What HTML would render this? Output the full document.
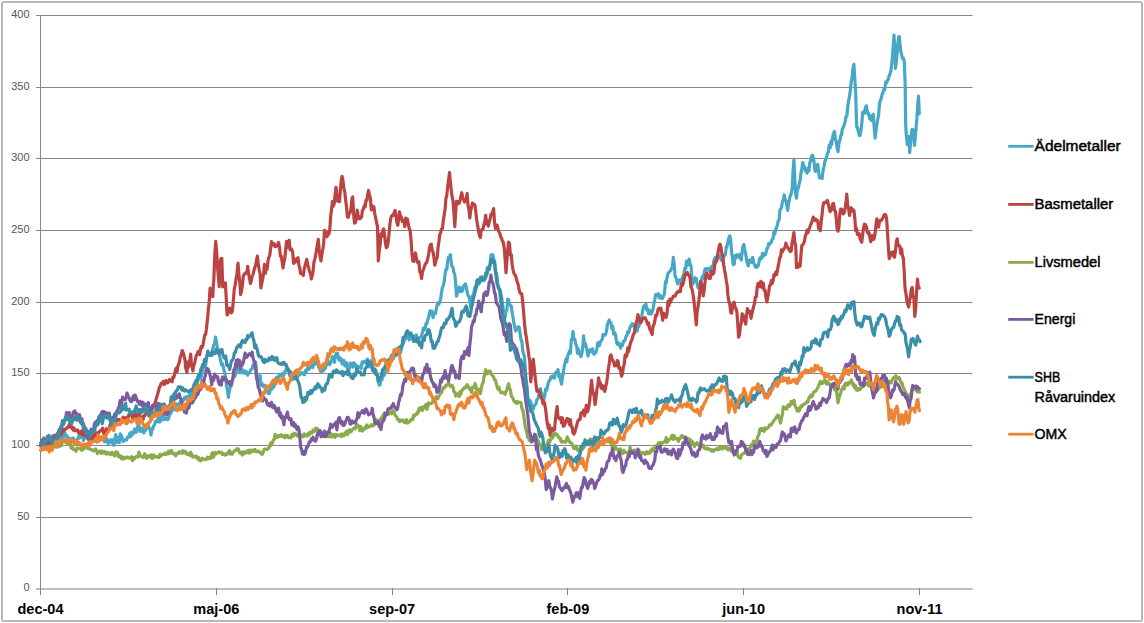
<!DOCTYPE html>
<html><head><meta charset="utf-8"><style>
html,body{margin:0;padding:0;background:#fff;width:1144px;height:623px;overflow:hidden}
svg{display:block}
.yl{font-family:"Liberation Sans",sans-serif;font-size:11px;fill:#555;text-anchor:end}
.xl{font-family:"Liberation Sans",sans-serif;font-size:14.5px;font-weight:bold;fill:#000;text-anchor:middle}
.lg{font-family:"Liberation Sans",sans-serif;font-size:14px;fill:#000;stroke:#000;stroke-width:0.45px}
</style></head><body>
<svg width="1144" height="623" viewBox="0 0 1144 623">
<rect x="2" y="2" width="1140" height="619" rx="1.5" fill="#fff" stroke="#b9b9b9" stroke-width="2"/>
<line x1="36" y1="589" x2="972.5" y2="589" stroke="#bcbcbc" stroke-width="2"/><text x="29.5" y="591.2" class="yl">0</text><line x1="36" y1="517.5" x2="972.5" y2="517.5" stroke="#868686" stroke-width="1"/><text x="29.5" y="520.2" class="yl">50</text><line x1="36" y1="445.5" x2="972.5" y2="445.5" stroke="#868686" stroke-width="1"/><text x="29.5" y="448.2" class="yl">100</text><line x1="36" y1="373.5" x2="972.5" y2="373.5" stroke="#868686" stroke-width="1"/><text x="29.5" y="376.2" class="yl">150</text><line x1="36" y1="302.5" x2="972.5" y2="302.5" stroke="#868686" stroke-width="1"/><text x="29.5" y="305.2" class="yl">200</text><line x1="36" y1="230.5" x2="972.5" y2="230.5" stroke="#868686" stroke-width="1"/><text x="29.5" y="233.2" class="yl">250</text><line x1="36" y1="158.5" x2="972.5" y2="158.5" stroke="#868686" stroke-width="1"/><text x="29.5" y="161.2" class="yl">300</text><line x1="36" y1="87.5" x2="972.5" y2="87.5" stroke="#868686" stroke-width="1"/><text x="29.5" y="90.2" class="yl">350</text><line x1="36" y1="15.5" x2="972.5" y2="15.5" stroke="#868686" stroke-width="1"/><text x="29.5" y="18.2" class="yl">400</text>
<line x1="40.5" y1="15" x2="40.5" y2="589" stroke="#868686" stroke-width="1"/>
<line x1="40.5" y1="588" x2="40.5" y2="595" stroke="#868686" stroke-width="1"/><text x="40.5" y="614" class="xl">dec-04</text><line x1="216.5" y1="588" x2="216.5" y2="595" stroke="#868686" stroke-width="1"/><text x="216.3" y="614" class="xl">maj-06</text><line x1="392.5" y1="588" x2="392.5" y2="595" stroke="#868686" stroke-width="1"/><text x="392.1" y="614" class="xl">sep-07</text><line x1="567.5" y1="588" x2="567.5" y2="595" stroke="#868686" stroke-width="1"/><text x="567.9" y="614" class="xl">feb-09</text><line x1="743.5" y1="588" x2="743.5" y2="595" stroke="#868686" stroke-width="1"/><text x="743.7" y="614" class="xl">jun-10</text><line x1="919.5" y1="588" x2="919.5" y2="595" stroke="#868686" stroke-width="1"/><text x="919.5" y="614" class="xl">nov-11</text>
<path d="M40.8 445.5 L41.7 445.5 L42.7 442.6 L43.6 441.6 L44.6 440.9 L45.5 441.7 L46.4 444.8 L47.4 443.2 L48.3 440.7 L49.2 439.8 L50.2 442.1 L51.1 445.5 L52.0 443.9 L53.0 442.3 L53.9 439.4 L54.9 443.3 L55.8 441.9 L56.7 439.1 L57.7 443.3 L58.6 441.5 L59.5 438.7 L60.5 436.7 L61.4 438.0 L62.3 433.9 L63.2 439.9 L64.1 434.7 L65.0 433.4 L65.9 435.9 L66.8 435.6 L67.7 439.0 L68.6 438.0 L69.5 438.3 L70.4 442.3 L71.3 438.5 L72.2 438.8 L73.1 438.0 L74.0 441.0 L74.9 440.4 L75.9 441.0 L76.8 439.4 L77.8 438.9 L78.8 436.2 L79.7 438.0 L80.7 433.1 L81.6 435.7 L82.6 436.1 L83.5 440.6 L84.4 437.7 L85.4 437.0 L86.3 435.4 L87.3 438.6 L88.2 439.3 L89.1 438.8 L90.1 441.5 L91.0 442.2 L91.9 439.8 L92.8 439.6 L93.7 435.5 L94.6 434.0 L95.5 439.3 L96.4 441.4 L97.3 441.0 L98.2 438.2 L99.1 438.6 L100.0 438.8 L100.9 438.8 L101.8 439.5 L102.7 437.5 L103.6 438.3 L104.5 441.9 L105.4 437.5 L106.3 441.5 L107.2 439.2 L108.1 443.6 L109.0 442.9 L109.9 441.2 L110.9 439.6 L111.8 442.9 L112.8 440.0 L113.8 445.3 L114.7 440.0 L115.7 434.6 L116.7 442.3 L117.6 437.3 L118.4 439.0 L119.3 442.7 L120.2 433.8 L121.1 434.9 L122.0 437.7 L122.9 441.4 L123.8 441.1 L124.7 440.1 L125.6 439.4 L126.5 440.1 L127.4 437.3 L128.3 437.7 L129.2 435.2 L130.1 432.9 L131.0 436.4 L131.9 432.0 L132.8 434.2 L133.7 433.5 L134.6 429.0 L135.5 430.9 L136.3 432.1 L137.2 427.2 L138.0 427.4 L139.0 424.8 L140.0 431.5 L141.0 431.2 L141.9 428.5 L142.9 431.0 L143.9 432.9 L144.8 427.5 L145.7 430.3 L146.6 425.9 L147.4 426.9 L148.3 425.0 L149.2 429.0 L150.1 429.1 L151.0 435.1 L151.9 428.5 L152.7 429.2 L153.6 426.0 L154.5 424.9 L155.4 421.5 L156.3 421.0 L157.2 421.8 L158.0 418.2 L158.9 418.4 L159.8 422.1 L160.7 419.9 L161.6 414.7 L162.4 415.8 L163.3 419.9 L164.2 417.0 L165.1 418.4 L166.0 419.2 L166.9 418.0 L167.7 419.5 L168.6 418.7 L169.5 414.4 L170.4 413.8 L171.3 412.3 L172.2 409.2 L173.0 407.2 L173.9 407.2 L174.8 409.9 L175.7 403.6 L176.6 404.6 L177.5 405.4 L178.3 405.8 L179.2 403.9 L180.1 401.9 L181.0 400.8 L181.9 402.3 L182.7 399.3 L183.6 400.1 L184.5 397.6 L185.4 398.7 L186.3 396.8 L187.2 399.2 L188.0 396.8 L188.9 395.8 L189.8 396.7 L190.7 394.1 L191.6 393.3 L192.5 395.3 L193.3 392.3 L194.2 389.5 L195.0 386.6 L196.0 385.3 L196.9 384.2 L197.9 378.4 L198.9 374.5 L199.8 379.1 L200.8 378.5 L201.7 374.1 L202.7 368.6 L203.6 367.9 L204.4 365.2 L205.3 366.4 L206.1 362.3 L207.0 356.0 L207.8 354.7 L208.8 354.7 L209.8 355.4 L210.7 354.8 L211.7 352.3 L212.7 349.3 L213.6 345.0 L214.6 343.6 L215.5 337.0 L216.5 342.2 L217.5 348.2 L218.3 350.8 L219.1 354.0 L219.9 357.4 L220.7 360.8 L221.6 364.9 L222.6 363.9 L223.6 368.9 L224.5 371.9 L225.5 377.6 L226.5 385.6 L227.4 389.8 L228.4 397.3 L229.3 390.6 L230.3 386.9 L231.3 385.9 L232.2 381.1 L233.2 377.5 L234.2 376.7 L235.1 375.8 L236.1 372.3 L237.0 369.8 L238.0 369.4 L239.0 369.9 L239.9 372.8 L240.9 372.0 L241.9 371.2 L242.8 370.0 L243.8 373.2 L244.7 371.0 L245.7 373.3 L246.7 371.8 L247.6 375.1 L248.6 373.3 L249.5 373.0 L250.4 370.4 L251.2 369.2 L252.1 369.0 L253.0 365.0 L253.9 366.1 L254.8 366.9 L255.7 362.0 L256.5 372.0 L257.4 380.6 L258.3 377.7 L259.2 381.6 L260.1 375.5 L260.9 385.3 L261.8 382.9 L262.7 385.7 L263.5 386.6 L264.3 386.5 L265.2 385.3 L266.0 390.2 L266.9 390.6 L267.7 392.0 L268.6 393.7 L269.5 393.4 L270.0 390.0 L271.0 388.5 L271.9 389.3 L272.9 384.9 L273.9 387.1 L274.8 379.4 L275.8 379.0 L276.7 377.2 L277.6 378.3 L278.5 377.2 L279.4 375.1 L280.3 376.1 L281.2 375.8 L282.2 373.6 L283.1 374.2 L284.0 374.7 L285.0 371.1 L285.9 370.4 L286.9 366.9 L287.8 370.7 L288.7 370.0 L289.7 375.7 L290.6 375.9 L291.5 379.6 L292.5 377.0 L293.4 379.1 L294.3 378.9 L295.2 374.3 L296.1 373.2 L297.0 373.3 L297.9 376.9 L298.8 374.8 L299.8 374.7 L300.7 373.5 L301.6 372.4 L302.6 373.2 L303.5 374.4 L304.5 374.7 L305.4 370.6 L306.3 371.9 L307.3 368.5 L308.2 367.5 L309.1 369.2 L310.0 366.0 L310.9 366.7 L311.8 363.0 L312.7 367.7 L313.6 364.3 L314.5 362.6 L315.4 364.0 L316.3 363.5 L317.2 361.5 L318.0 363.5 L318.9 367.7 L319.7 368.2 L320.6 371.4 L321.5 372.1 L322.4 370.5 L323.3 370.9 L324.2 365.9 L325.1 368.7 L326.0 365.9 L326.9 364.5 L327.9 360.1 L328.8 363.5 L329.7 364.7 L330.7 362.4 L331.6 361.1 L332.6 356.7 L333.6 358.9 L334.5 362.3 L335.5 355.3 L336.5 353.1 L337.4 353.2 L338.4 358.0 L339.3 360.3 L340.2 357.9 L341.2 359.2 L342.1 364.0 L343.0 363.1 L344.0 360.5 L344.9 365.9 L345.8 363.9 L346.8 362.8 L347.7 370.7 L348.7 366.1 L349.6 368.5 L350.4 363.1 L351.3 366.2 L352.2 363.4 L353.1 367.0 L354.0 362.7 L354.9 365.1 L355.8 364.9 L356.7 368.5 L357.6 369.3 L358.5 366.4 L359.4 366.7 L360.3 366.4 L361.2 368.3 L362.1 362.3 L363.0 361.7 L363.9 362.6 L364.8 361.3 L365.7 362.5 L366.6 360.7 L367.5 359.2 L368.4 367.0 L369.3 362.5 L370.2 361.8 L371.1 360.5 L372.0 361.3 L372.9 369.3 L373.8 369.2 L374.7 372.2 L375.6 370.0 L376.5 372.9 L377.4 375.3 L378.3 379.5 L379.2 385.2 L380.1 384.7 L381.0 376.9 L381.9 379.9 L382.7 374.9 L383.6 375.8 L384.5 374.7 L385.4 370.1 L386.3 369.5 L387.2 367.8 L388.0 363.2 L388.9 361.1 L389.8 358.9 L390.7 357.8 L391.6 355.2 L392.5 358.9 L393.3 358.7 L394.2 351.1 L395.1 354.6 L396.0 354.4 L396.9 348.6 L397.8 351.8 L398.6 350.8 L399.5 348.8 L400.4 353.0 L401.3 349.4 L402.2 345.8 L403.0 344.0 L403.9 341.9 L404.8 338.7 L405.7 338.8 L406.6 335.9 L407.5 334.9 L408.3 335.4 L409.2 340.0 L410.1 337.8 L411.0 338.6 L411.9 337.5 L412.8 339.0 L413.6 338.4 L414.5 335.8 L415.4 336.7 L416.3 334.9 L417.2 338.9 L418.1 341.7 L418.9 338.1 L419.8 337.4 L420.7 336.7 L421.6 336.0 L422.5 332.1 L423.3 328.1 L424.2 330.0 L425.1 329.8 L426.0 323.4 L426.9 323.7 L427.8 319.3 L428.6 317.9 L429.5 312.6 L430.4 310.7 L431.3 314.1 L432.2 311.3 L433.1 317.7 L433.9 313.0 L434.8 313.3 L435.6 313.4 L436.4 308.2 L437.2 304.9 L438.0 302.9 L438.9 304.2 L439.8 302.1 L440.6 299.1 L441.5 292.7 L442.4 287.2 L443.3 285.7 L444.2 281.6 L445.1 274.2 L445.9 269.2 L446.8 269.6 L447.7 261.5 L448.6 256.8 L449.5 256.7 L450.4 254.7 L451.2 262.4 L452.1 266.7 L453.0 267.4 L453.9 272.8 L454.8 274.4 L455.7 283.6 L456.5 296.1 L457.4 293.2 L458.3 290.9 L459.2 287.1 L460.1 287.4 L460.9 291.6 L461.8 291.4 L462.7 290.6 L463.6 286.0 L464.5 285.1 L465.4 283.9 L466.2 286.3 L467.1 291.9 L468.0 295.3 L468.9 296.7 L469.8 300.3 L470.7 307.2 L471.5 302.1 L472.4 295.8 L473.3 297.0 L474.2 290.5 L475.1 286.5 L476.0 286.5 L476.8 286.2 L477.7 284.6 L478.6 284.0 L479.5 282.8 L480.4 278.6 L481.2 277.6 L482.1 276.7 L483.0 280.7 L483.9 280.6 L484.8 279.5 L485.7 277.3 L486.5 275.3 L487.4 273.3 L488.3 267.2 L489.2 269.4 L490.1 263.9 L491.0 255.2 L491.8 257.7 L492.7 254.6 L493.6 258.9 L494.5 261.1 L495.4 269.9 L496.3 273.1 L497.1 277.1 L498.0 287.2 L498.9 288.0 L499.8 292.4 L500.7 302.1 L501.5 296.5 L502.4 303.6 L503.3 309.5 L504.2 312.6 L505.1 317.2 L506.0 311.8 L506.8 310.3 L507.7 299.1 L508.6 299.5 L509.5 304.4 L510.4 305.5 L511.3 306.0 L512.1 312.5 L513.0 317.1 L513.9 323.2 L514.8 327.5 L515.7 330.9 L516.6 329.3 L517.4 328.5 L518.3 326.6 L519.2 327.4 L520.1 333.7 L521.0 339.6 L521.8 341.0 L522.7 350.3 L523.6 353.9 L524.5 356.9 L525.4 371.4 L526.3 381.8 L527.1 386.8 L528.0 401.1 L528.9 400.4 L529.8 400.4 L530.7 402.0 L531.6 405.6 L532.4 406.8 L533.3 409.2 L534.2 405.6 L535.1 404.9 L536.0 403.7 L536.9 399.7 L537.7 399.3 L538.6 396.5 L539.5 390.4 L540.4 388.6 L541.3 392.8 L542.1 395.1 L543.0 395.1 L543.9 399.2 L544.8 394.9 L545.7 389.0 L546.6 390.5 L547.4 386.9 L548.3 382.9 L549.2 380.7 L550.1 380.0 L551.0 376.8 L551.9 376.3 L552.7 377.5 L553.6 375.9 L554.5 378.1 L555.4 373.2 L556.3 372.1 L557.2 371.3 L558.0 369.7 L558.9 376.9 L559.8 375.5 L560.7 380.7 L561.6 384.0 L562.4 377.7 L563.3 373.1 L564.2 366.4 L565.1 362.8 L566.0 359.0 L566.9 361.8 L567.7 355.9 L568.6 353.5 L569.5 351.0 L570.4 353.1 L571.3 339.9 L572.2 338.2 L573.0 331.7 L573.9 339.5 L574.8 339.4 L575.7 344.1 L576.6 345.5 L577.5 353.3 L578.3 348.9 L579.2 352.9 L580.1 354.8 L581.0 356.6 L581.9 353.2 L582.7 348.0 L583.6 335.8 L584.5 345.9 L585.4 343.7 L586.3 347.1 L587.2 351.2 L588.0 356.2 L588.9 352.1 L589.8 349.9 L590.7 349.8 L591.6 351.9 L592.5 348.9 L593.3 353.2 L594.2 354.2 L595.1 352.2 L596.0 352.5 L596.9 348.5 L597.8 343.1 L598.6 342.4 L599.5 345.5 L600.4 341.6 L601.3 340.7 L602.2 339.3 L603.0 334.6 L603.9 335.5 L604.8 335.5 L605.7 334.1 L606.6 330.6 L607.5 323.6 L608.3 322.4 L609.2 320.0 L610.1 322.5 L611.0 322.7 L611.9 328.8 L612.8 326.5 L613.6 334.0 L614.5 332.5 L615.4 334.1 L616.3 340.3 L617.2 344.1 L618.1 342.5 L618.9 345.0 L619.8 344.1 L620.7 348.1 L621.6 344.7 L622.5 345.2 L623.3 341.4 L624.2 341.4 L625.1 339.7 L626.0 336.7 L626.9 335.3 L627.8 331.7 L628.6 332.7 L629.5 329.7 L630.4 326.2 L631.3 326.3 L632.2 323.6 L633.1 325.1 L633.9 325.3 L634.8 326.9 L635.6 330.7 L636.4 329.5 L637.2 331.0 L638.0 324.9 L638.9 326.6 L639.8 319.8 L640.6 321.6 L641.5 317.7 L642.4 312.5 L643.3 307.4 L644.2 305.6 L645.1 305.3 L645.9 304.1 L646.8 310.1 L647.7 308.9 L648.6 314.0 L649.5 311.4 L650.4 310.7 L651.2 314.0 L652.1 312.1 L653.0 309.4 L653.9 303.7 L654.8 299.6 L655.7 294.6 L656.5 295.6 L657.4 294.3 L658.3 293.7 L659.2 297.8 L660.1 295.5 L660.9 298.3 L661.8 296.4 L662.7 298.3 L663.6 295.6 L664.5 293.6 L665.4 281.5 L666.2 283.0 L667.1 277.3 L668.0 273.2 L668.9 272.5 L669.8 271.5 L670.7 270.4 L671.5 268.6 L672.4 266.9 L673.3 257.4 L674.2 264.2 L675.1 276.1 L676.0 277.7 L676.8 280.8 L677.7 283.8 L678.6 281.5 L679.5 279.9 L680.4 280.8 L681.2 281.8 L682.1 278.6 L683.0 275.9 L683.9 273.9 L684.8 268.7 L685.7 268.9 L686.5 261.1 L687.4 265.1 L688.3 264.7 L689.2 259.0 L690.1 264.0 L691.0 265.9 L691.8 276.5 L692.7 284.2 L693.6 281.8 L694.5 281.2 L695.4 277.7 L696.3 278.4 L697.1 283.9 L698.0 287.6 L698.9 285.8 L699.8 289.5 L700.7 281.7 L701.5 279.6 L702.4 276.5 L703.3 278.1 L704.2 272.9 L705.1 268.9 L706.0 269.8 L706.8 269.4 L707.7 268.3 L708.6 268.5 L709.5 271.0 L710.4 272.1 L711.3 266.8 L712.1 266.4 L713.0 266.6 L713.9 260.8 L714.8 257.8 L715.7 258.0 L716.6 256.7 L717.4 257.0 L718.3 257.4 L719.2 257.4 L720.1 255.7 L721.0 259.9 L721.8 260.5 L722.7 261.0 L723.6 257.2 L724.5 255.5 L725.4 254.6 L726.3 246.5 L727.1 246.5 L728.0 241.5 L728.9 237.6 L729.8 235.8 L730.7 240.1 L731.6 252.5 L732.4 257.8 L733.3 264.7 L734.2 264.1 L735.1 255.7 L736.0 257.9 L736.9 254.9 L737.7 257.1 L738.6 255.0 L739.5 254.5 L740.4 258.4 L741.3 259.9 L742.1 252.1 L743.0 246.3 L743.9 244.4 L744.8 250.5 L745.7 253.5 L746.6 260.6 L747.4 263.2 L748.3 265.9 L749.2 260.2 L750.1 262.2 L751.0 259.9 L751.9 262.2 L752.7 257.3 L753.6 263.1 L754.5 264.5 L755.4 267.1 L756.3 267.3 L757.2 265.3 L758.0 266.1 L758.9 262.9 L759.8 258.4 L760.7 257.4 L761.6 258.5 L762.4 253.4 L763.3 256.2 L764.2 254.0 L765.1 254.8 L766.0 252.9 L766.9 248.6 L767.7 247.8 L768.6 243.6 L769.5 244.5 L770.4 243.1 L771.3 242.1 L772.2 239.2 L773.0 238.5 L773.9 232.0 L774.8 234.0 L775.7 229.7 L776.6 227.2 L777.5 224.5 L778.3 220.6 L779.2 219.8 L779.8 210.7 L780.6 209.0 L781.5 207.5 L782.4 202.1 L783.3 199.8 L784.2 194.9 L785.1 199.7 L785.9 200.5 L786.8 205.4 L787.7 210.5 L788.6 203.7 L789.5 199.0 L790.4 195.3 L791.2 193.8 L792.1 189.1 L793.0 172.1 L793.9 159.9 L794.8 178.8 L795.7 194.1 L796.5 198.1 L797.4 188.9 L798.3 188.3 L799.2 183.8 L800.1 180.6 L800.9 173.7 L801.8 169.4 L802.7 162.5 L803.6 165.2 L804.5 167.1 L805.4 170.9 L806.2 169.3 L807.1 173.2 L808.0 168.2 L808.9 171.0 L809.8 162.6 L810.7 160.5 L811.5 156.4 L812.4 155.1 L813.3 157.2 L814.2 163.3 L815.1 171.3 L816.0 169.4 L816.8 170.7 L817.7 164.3 L818.6 172.1 L819.5 177.9 L820.4 177.8 L821.2 177.8 L822.1 178.5 L823.0 171.0 L823.9 167.0 L824.8 161.9 L825.7 159.4 L826.5 157.3 L827.4 153.8 L828.3 152.1 L829.2 145.2 L830.1 148.0 L831.0 141.2 L831.8 144.4 L832.7 136.9 L833.6 133.4 L834.5 131.4 L835.4 139.4 L836.3 141.3 L837.1 147.7 L838.0 151.6 L838.9 143.3 L839.8 141.0 L840.7 135.9 L841.5 134.8 L842.4 128.4 L843.3 127.7 L844.2 124.6 L845.1 121.9 L846.0 116.5 L846.8 116.2 L847.7 107.1 L848.6 100.9 L849.5 96.5 L850.4 90.1 L851.3 81.0 L852.1 78.0 L853.0 68.7 L853.9 64.4 L854.8 78.5 L855.7 92.7 L856.6 126.5 L857.4 127.5 L858.3 131.0 L859.2 135.5 L860.1 135.5 L861.0 130.7 L861.8 122.8 L862.7 112.3 L863.6 111.9 L864.5 113.2 L865.4 107.6 L866.3 105.8 L867.1 110.7 L868.0 114.2 L868.9 113.7 L869.8 118.9 L870.7 117.0 L871.6 120.5 L872.4 115.5 L873.3 114.3 L874.2 127.7 L875.1 138.1 L876.0 130.7 L876.9 124.4 L877.7 119.8 L878.6 115.0 L879.5 103.7 L880.4 100.3 L881.3 98.1 L882.1 94.3 L883.0 92.4 L883.9 89.2 L884.8 89.6 L885.7 82.2 L886.6 83.0 L887.4 80.4 L888.3 79.4 L889.2 75.9 L890.1 73.6 L891.0 70.5 L891.9 62.1 L892.7 53.3 L893.4 43.3 L894.0 35.1 L894.7 47.7 L895.4 68.3 L896.2 63.2 L897.0 55.5 L897.8 44.3 L898.6 36.8 L899.3 36.6 L900.1 45.2 L900.8 51.8 L901.6 54.5 L902.4 58.4 L903.3 58.2 L904.2 60.5 L905.1 81.7 L905.7 126.4 L906.5 136.5 L907.3 144.6 L908.1 139.8 L908.9 136.6 L909.7 152.7 L910.5 143.5 L911.3 134.6 L912.1 129.3 L912.9 129.9 L913.7 132.9 L914.5 145.4 L915.3 136.5 L916.1 127.8 L916.9 118.4 L917.7 105.1 L918.5 96.1 L919.3 113.8" fill="none" stroke="#46a8c6" stroke-width="3.2" stroke-linejoin="round" stroke-linecap="round"/><path d="M40.8 446.3 L41.7 440.2 L42.7 446.8 L43.6 445.5 L44.6 441.7 L45.5 447.2 L46.4 443.7 L47.4 445.2 L48.3 446.9 L49.2 441.6 L50.2 439.9 L51.1 439.9 L52.0 441.0 L53.0 442.7 L53.9 441.7 L54.9 435.2 L55.8 439.2 L56.7 438.8 L57.7 436.3 L58.6 432.3 L59.5 434.9 L60.5 435.0 L61.2 430.9 L62.0 433.3 L62.7 428.9 L63.6 431.1 L64.5 430.4 L65.4 429.0 L66.3 428.5 L67.2 427.4 L68.2 427.5 L69.1 424.6 L70.1 424.7 L71.1 427.6 L72.0 426.8 L73.0 430.0 L74.0 428.0 L74.9 430.7 L75.8 430.3 L76.8 430.7 L77.7 430.0 L78.6 433.0 L79.6 432.2 L80.5 434.2 L81.4 431.3 L82.4 430.5 L83.3 435.3 L84.3 432.7 L85.2 434.6 L86.1 436.0 L87.0 436.7 L87.9 437.3 L88.8 436.3 L89.7 438.1 L90.5 438.1 L91.4 440.8 L92.2 438.3 L93.1 435.1 L93.9 434.5 L94.7 436.2 L95.6 433.8 L96.4 432.8 L97.3 435.4 L98.2 433.3 L99.1 432.0 L100.0 431.3 L100.9 430.1 L101.8 430.2 L102.7 428.1 L103.6 432.7 L104.5 435.4 L105.4 437.8 L106.4 428.8 L107.3 429.2 L108.2 431.4 L109.2 428.6 L110.1 424.9 L111.0 423.3 L112.0 426.5 L112.9 424.2 L113.8 423.7 L114.8 420.0 L115.7 422.9 L116.7 419.8 L117.6 419.6 L118.5 420.2 L119.5 419.4 L120.4 420.2 L121.3 422.9 L122.3 418.9 L123.2 417.1 L124.1 420.1 L125.1 420.6 L126.0 417.7 L127.0 423.3 L127.9 418.6 L128.8 414.7 L129.8 415.0 L130.7 412.9 L131.6 412.5 L132.6 418.4 L133.5 416.1 L134.4 411.2 L135.3 417.8 L136.2 417.6 L137.1 414.4 L138.0 417.9 L138.8 417.3 L139.6 413.1 L140.4 421.9 L141.3 417.7 L142.1 417.2 L143.0 419.5 L143.9 415.6 L144.8 415.9 L145.7 413.6 L146.6 412.4 L147.4 411.3 L148.3 412.9 L149.2 409.8 L150.1 410.8 L151.0 408.3 L151.9 410.8 L152.7 405.8 L153.6 405.0 L154.5 404.0 L155.2 402.6 L155.8 400.3 L156.7 397.2 L157.5 394.8 L158.4 391.5 L159.2 388.1 L160.0 386.6 L160.7 384.3 L161.5 383.1 L162.4 383.6 L163.3 381.5 L164.2 384.5 L165.1 383.2 L166.0 380.6 L166.9 383.0 L167.8 382.8 L168.7 381.5 L169.6 379.4 L170.4 380.9 L171.3 380.4 L172.1 381.8 L173.0 376.8 L173.8 377.3 L174.7 374.2 L175.5 369.5 L176.3 368.1 L177.2 371.6 L177.9 366.3 L178.7 363.7 L179.4 362.3 L180.4 356.7 L181.3 354.8 L182.2 350.6 L183.2 352.9 L184.1 356.4 L185.1 360.4 L185.6 367.5 L186.2 369.7 L186.9 372.3 L187.7 362.2 L188.4 367.2 L189.2 361.6 L189.9 360.5 L190.7 354.2 L191.4 365.7 L192.2 366.8 L192.9 370.9 L193.8 365.0 L194.6 363.5 L195.4 359.1 L196.3 355.5 L197.1 354.5 L198.0 351.6 L198.8 352.2 L199.7 354.5 L200.5 348.9 L201.3 346.4 L202.2 347.6 L203.0 344.6 L203.9 339.8 L204.7 335.1 L205.6 334.5 L206.4 329.2 L206.9 323.8 L207.5 319.8 L208.3 309.3 L209.2 302.4 L210.1 288.1 L211.0 291.1 L211.9 292.4 L212.8 296.7 L213.3 285.9 L213.9 278.3 L214.8 254.9 L215.7 241.4 L216.6 250.8 L217.4 265.1 L218.3 276.2 L219.2 286.7 L220.1 262.3 L221.0 258.6 L221.8 258.3 L222.7 286.9 L223.6 283.2 L224.5 283.0 L225.4 282.8 L226.3 299.6 L227.1 315.0 L228.0 313.7 L228.9 309.1 L229.8 308.2 L230.7 311.9 L231.6 312.7 L232.4 310.6 L233.3 301.5 L234.2 289.5 L235.1 285.3 L236.0 279.4 L236.9 274.2 L237.7 265.9 L238.0 263.1 L238.9 274.4 L239.8 282.6 L240.6 294.6 L241.5 291.0 L242.4 285.2 L243.3 276.1 L244.2 274.1 L245.1 273.9 L245.9 272.6 L246.8 272.9 L247.7 266.4 L248.6 274.1 L249.5 278.3 L250.4 283.6 L251.2 281.2 L252.1 276.2 L253.0 274.7 L253.9 270.7 L254.8 267.5 L255.7 265.2 L256.5 260.2 L257.4 256.1 L258.3 263.9 L259.2 270.0 L260.1 273.9 L260.9 288.0 L261.8 283.1 L262.7 278.8 L263.6 273.4 L264.5 264.4 L265.4 273.2 L266.2 266.8 L267.1 269.6 L268.0 261.0 L268.9 257.1 L269.8 255.3 L270.7 248.0 L271.5 241.7 L272.4 244.4 L273.3 244.9 L274.2 243.6 L275.1 246.7 L276.0 246.6 L276.8 245.7 L277.7 244.4 L278.6 242.4 L279.5 247.2 L280.4 256.1 L281.2 256.0 L282.1 261.4 L283.0 268.0 L283.9 262.4 L284.8 258.4 L285.7 249.6 L286.5 241.7 L287.4 247.3 L288.3 241.4 L289.2 240.3 L290.1 249.8 L291.0 248.7 L291.8 249.4 L292.7 252.4 L293.6 263.4 L294.5 259.1 L295.4 262.1 L296.3 260.1 L297.1 258.4 L298.0 257.6 L298.9 265.2 L299.8 268.3 L300.7 273.7 L301.5 273.2 L302.4 273.1 L303.3 275.5 L304.2 269.0 L305.1 265.5 L306.0 262.3 L306.8 259.4 L307.7 265.0 L308.6 267.3 L309.5 271.7 L310.4 272.7 L311.3 279.0 L312.1 276.1 L313.0 271.9 L313.9 262.4 L314.8 259.1 L315.7 254.8 L316.6 249.3 L317.4 244.4 L318.3 239.3 L319.2 249.9 L320.1 256.7 L321.0 260.9 L321.8 255.1 L322.7 249.9 L323.6 244.3 L324.5 230.3 L325.4 233.5 L326.3 234.1 L327.1 236.7 L328.0 232.2 L328.9 234.0 L329.8 229.3 L330.7 215.9 L331.6 209.0 L332.4 201.6 L333.3 206.2 L334.2 203.7 L335.1 194.4 L336.0 187.3 L336.9 195.0 L337.7 201.3 L338.6 201.1 L339.5 201.6 L340.4 189.8 L341.3 180.0 L342.1 176.3 L343.0 181.3 L343.9 188.6 L344.8 192.1 L345.7 200.8 L346.6 207.5 L347.4 216.9 L348.3 217.3 L349.2 212.8 L350.1 213.0 L351.0 208.8 L351.9 198.8 L352.7 197.0 L353.6 213.7 L354.5 223.1 L355.4 222.5 L356.3 219.3 L357.2 210.2 L358.0 214.6 L358.9 218.3 L359.8 218.8 L360.7 217.9 L361.6 217.1 L362.4 210.5 L363.3 209.3 L364.2 205.8 L365.1 207.0 L366.0 200.2 L366.9 200.3 L367.7 194.2 L368.6 190.5 L369.5 195.0 L370.4 198.1 L371.3 209.9 L372.2 205.9 L373.0 207.4 L373.9 206.7 L374.8 214.0 L375.7 218.1 L376.6 222.7 L377.5 226.4 L378.3 260.9 L379.2 251.3 L380.1 245.1 L381.0 233.9 L381.9 236.2 L382.7 231.2 L383.6 228.8 L384.5 234.4 L385.4 242.9 L386.3 247.8 L387.2 246.8 L388.0 243.2 L388.9 235.2 L389.8 225.1 L390.7 218.6 L391.6 216.0 L392.5 215.1 L393.3 215.3 L394.2 212.6 L395.1 210.4 L396.0 216.6 L396.9 222.3 L397.8 225.3 L398.6 219.0 L399.5 211.8 L400.4 215.7 L401.3 217.1 L402.2 221.4 L403.0 220.2 L403.9 220.8 L404.8 226.7 L405.7 218.0 L406.6 222.1 L407.5 219.1 L408.3 224.4 L409.2 228.5 L410.1 230.5 L411.0 239.2 L411.9 252.4 L412.8 260.9 L413.6 261.4 L414.5 254.8 L415.4 253.0 L416.3 257.6 L417.2 261.9 L418.1 262.9 L418.9 261.7 L419.8 272.2 L420.7 272.9 L421.6 278.5 L422.5 271.6 L423.3 269.8 L424.2 267.4 L425.1 264.4 L426.0 263.0 L426.9 262.1 L427.8 258.1 L428.6 254.9 L429.5 247.9 L430.4 244.7 L431.3 244.2 L432.2 250.7 L433.1 252.0 L433.9 257.2 L434.8 265.2 L435.6 262.5 L436.4 258.7 L437.2 257.7 L438.0 248.1 L438.9 241.8 L439.8 234.4 L440.6 233.1 L441.5 228.9 L442.4 228.6 L443.3 220.8 L444.2 214.8 L445.1 209.3 L445.9 198.5 L446.8 195.4 L447.7 186.3 L448.6 180.1 L449.5 172.7 L450.4 182.5 L451.2 189.6 L452.1 196.9 L453.0 200.7 L453.9 213.0 L454.8 226.6 L455.7 211.7 L456.5 201.3 L457.4 201.6 L458.3 203.4 L459.2 203.3 L460.1 200.2 L460.9 196.5 L461.8 192.7 L462.7 197.6 L463.6 199.5 L464.5 202.1 L465.4 199.6 L466.2 199.0 L467.1 193.4 L468.0 205.3 L468.9 209.1 L469.8 218.0 L470.7 210.5 L471.5 207.3 L472.4 203.1 L473.3 203.7 L474.2 204.4 L475.1 205.7 L476.0 213.6 L476.8 220.5 L477.7 225.6 L478.6 231.4 L479.5 235.3 L480.4 237.6 L481.2 230.8 L482.1 229.3 L483.0 229.2 L483.9 224.5 L484.8 221.8 L485.7 215.3 L486.5 224.0 L487.4 220.8 L488.3 226.1 L489.2 221.6 L490.1 219.3 L491.0 214.3 L491.8 214.1 L492.7 211.7 L493.6 208.6 L494.5 221.8 L495.4 228.3 L496.3 225.1 L497.1 225.2 L498.0 229.4 L498.9 231.9 L499.8 233.1 L500.7 236.8 L501.5 238.0 L502.4 241.2 L503.3 242.1 L504.2 248.1 L505.1 258.5 L506.0 272.7 L506.8 261.8 L507.7 250.2 L508.6 242.0 L509.5 243.7 L510.4 255.4 L511.3 254.6 L512.1 264.2 L513.0 269.6 L513.9 273.3 L514.8 274.6 L515.7 276.1 L516.6 280.0 L517.4 282.2 L518.3 285.3 L519.2 289.9 L520.1 293.1 L521.0 293.4 L521.8 294.0 L522.7 302.1 L523.6 311.9 L524.5 323.4 L525.4 331.8 L526.3 337.3 L527.1 343.3 L528.0 349.1 L528.9 356.2 L529.8 360.8 L530.7 381.8 L531.6 375.3 L532.4 368.2 L533.3 359.4 L534.2 368.1 L535.1 376.4 L536.0 384.1 L536.9 391.3 L537.7 389.9 L538.6 391.2 L539.5 391.6 L540.4 396.7 L541.3 396.8 L542.1 399.4 L543.0 403.8 L543.9 401.4 L544.8 404.5 L545.7 410.0 L546.6 418.2 L547.4 424.1 L548.3 428.4 L549.2 425.0 L550.1 435.4 L551.0 431.0 L551.9 428.5 L552.7 431.6 L553.6 428.7 L554.5 429.7 L555.4 419.7 L556.3 412.3 L557.2 406.5 L558.0 417.5 L558.9 418.3 L559.8 419.0 L560.7 417.6 L561.6 423.0 L562.4 417.8 L563.3 426.4 L564.2 425.5 L565.1 423.8 L566.0 421.1 L566.9 418.7 L567.7 418.6 L568.6 420.6 L569.5 424.7 L570.4 419.6 L571.3 426.7 L572.2 427.2 L573.0 433.0 L573.9 434.0 L574.8 432.4 L575.7 429.1 L576.6 425.7 L577.5 422.3 L578.3 420.1 L579.2 419.5 L580.1 419.4 L581.0 412.9 L581.9 412.6 L582.7 413.1 L583.6 410.1 L584.5 416.0 L585.4 411.5 L586.3 405.3 L587.2 411.9 L588.0 410.5 L588.9 406.1 L589.8 400.1 L590.7 389.0 L591.6 380.4 L592.5 390.4 L593.3 392.8 L594.2 396.7 L595.1 404.5 L596.0 398.2 L596.9 389.1 L597.8 386.0 L598.6 377.8 L599.5 382.4 L600.4 382.8 L601.3 388.2 L602.2 385.6 L603.0 389.1 L603.9 386.3 L604.8 391.4 L605.7 386.6 L606.6 382.9 L607.5 376.4 L608.3 369.0 L609.2 364.0 L610.1 356.3 L611.0 354.9 L611.9 358.7 L612.8 360.3 L613.6 362.1 L614.5 365.9 L615.4 363.7 L616.3 365.7 L617.2 360.5 L618.1 361.3 L618.9 368.3 L619.8 367.3 L620.7 371.1 L621.6 376.2 L622.5 373.5 L623.3 367.6 L624.2 364.3 L625.1 355.2 L626.0 357.0 L626.9 355.2 L627.8 347.9 L628.6 351.8 L629.6 346.7 L630.5 342.8 L631.5 340.7 L632.4 338.3 L633.3 334.1 L634.3 333.4 L635.2 326.4 L636.1 323.2 L637.1 319.8 L638.0 314.6 L638.9 319.4 L639.8 319.0 L640.6 322.8 L641.5 321.4 L642.4 318.9 L643.3 318.0 L644.2 318.4 L645.1 317.6 L645.9 319.5 L646.8 321.7 L647.7 324.5 L648.6 322.8 L649.5 328.7 L650.4 329.9 L651.2 332.2 L652.1 334.5 L653.0 326.0 L653.9 324.9 L654.8 321.2 L655.7 315.0 L656.5 315.9 L657.4 312.7 L658.3 308.7 L659.2 308.3 L660.1 309.7 L660.9 308.1 L661.8 314.0 L662.7 320.2 L663.6 313.1 L664.5 315.8 L665.4 316.8 L666.2 317.3 L667.1 312.9 L668.0 301.3 L668.9 305.7 L669.8 299.1 L670.7 302.2 L671.5 299.1 L672.4 298.5 L673.3 296.3 L674.2 295.8 L675.1 296.1 L676.0 293.9 L676.8 292.8 L677.7 291.6 L678.6 292.0 L679.5 290.8 L680.4 291.5 L681.2 284.1 L682.1 285.8 L683.0 283.8 L683.9 280.4 L684.8 274.8 L685.7 275.3 L686.5 272.7 L687.4 272.5 L688.3 274.7 L689.2 275.2 L690.1 278.3 L691.0 286.9 L691.8 288.4 L692.7 292.5 L693.6 297.8 L694.5 306.2 L695.4 315.3 L696.3 324.9 L697.1 311.9 L698.0 307.2 L698.9 300.5 L699.8 293.0 L700.7 281.4 L701.5 284.1 L702.4 286.0 L703.3 295.8 L704.2 289.8 L705.1 281.4 L706.0 274.8 L706.8 273.0 L707.7 275.3 L708.6 278.1 L709.5 278.5 L710.4 278.4 L711.3 271.5 L712.1 271.1 L713.0 274.2 L713.9 272.3 L714.8 264.5 L715.7 261.0 L716.6 261.4 L717.4 256.8 L718.3 250.8 L719.2 246.0 L720.1 244.2 L721.0 247.5 L721.8 253.3 L722.7 255.4 L723.6 264.2 L724.5 269.7 L725.4 274.4 L726.3 280.7 L727.1 284.9 L728.0 295.7 L728.9 301.5 L729.8 304.4 L730.7 312.1 L731.6 313.1 L732.4 307.9 L733.3 303.0 L734.2 302.2 L735.1 307.8 L736.0 308.4 L736.9 312.1 L737.7 323.1 L738.6 337.2 L739.5 334.9 L740.4 326.0 L741.3 323.0 L742.1 313.8 L743.0 314.5 L743.9 320.3 L744.8 320.6 L745.7 324.2 L746.6 314.9 L747.4 308.7 L748.3 312.6 L749.2 310.9 L750.1 311.4 L751.0 318.3 L751.9 313.8 L752.7 310.5 L753.6 306.4 L754.5 303.5 L755.4 297.0 L756.3 296.9 L757.2 287.6 L758.0 283.3 L758.9 285.7 L759.8 286.9 L760.7 281.4 L761.6 282.1 L762.4 287.7 L763.3 283.3 L764.2 290.2 L765.1 290.4 L766.0 297.7 L766.9 301.9 L767.7 297.3 L768.6 293.2 L769.5 285.7 L770.4 285.3 L771.3 280.7 L772.2 283.4 L773.0 281.2 L773.9 274.7 L774.8 275.9 L775.7 272.2 L776.6 274.6 L777.5 270.0 L778.0 266.9 L778.9 262.6 L779.8 257.6 L780.6 256.7 L781.5 249.8 L782.4 251.7 L783.3 249.9 L784.2 248.4 L785.1 247.5 L785.9 243.1 L786.8 246.8 L787.7 247.1 L788.6 249.1 L789.5 250.2 L790.4 251.6 L791.2 250.8 L792.1 242.8 L793.0 238.2 L793.9 232.5 L794.8 242.3 L795.7 245.6 L796.5 267.7 L797.4 267.5 L798.3 264.0 L799.2 266.6 L800.1 266.1 L800.9 256.1 L801.8 245.7 L802.7 244.8 L803.6 243.6 L804.5 241.0 L805.4 235.5 L806.2 234.1 L807.1 230.2 L808.0 232.7 L808.9 229.2 L809.8 227.4 L810.7 224.4 L811.5 222.9 L812.4 219.9 L813.3 217.1 L814.2 219.5 L815.1 220.5 L816.0 219.2 L816.8 220.4 L817.7 220.6 L818.6 228.5 L819.5 227.7 L820.4 230.7 L821.2 221.8 L822.1 214.3 L823.0 205.6 L823.9 202.5 L824.8 202.3 L825.7 202.6 L826.5 202.6 L827.4 200.4 L828.3 204.0 L829.2 208.2 L830.1 211.6 L831.0 210.4 L831.8 208.7 L832.7 203.8 L833.6 203.5 L834.5 210.3 L835.4 211.2 L836.3 218.7 L837.1 228.9 L838.0 231.2 L838.9 227.1 L839.8 213.9 L840.7 209.2 L841.5 209.2 L842.4 212.8 L843.3 213.9 L844.2 212.6 L845.1 208.1 L846.0 202.6 L846.8 194.1 L847.7 205.5 L848.6 208.8 L849.5 215.5 L850.4 209.4 L851.3 207.8 L852.1 211.0 L853.0 209.6 L853.9 210.4 L854.8 217.8 L855.7 230.6 L856.6 228.4 L857.4 234.6 L858.3 234.4 L859.2 233.8 L860.1 238.9 L861.0 240.8 L861.8 242.2 L862.7 234.0 L863.6 227.5 L864.5 224.2 L865.4 224.7 L866.3 226.3 L867.1 231.0 L868.0 233.3 L868.9 232.4 L869.8 237.0 L870.7 241.7 L871.6 238.5 L872.4 235.5 L873.3 239.5 L874.2 238.6 L875.1 233.1 L876.0 224.3 L876.9 218.8 L877.7 221.6 L878.6 227.1 L879.5 221.6 L880.4 220.3 L881.3 220.4 L882.1 219.3 L883.0 217.8 L883.9 215.4 L884.8 214.5 L885.7 215.0 L886.6 218.5 L887.4 230.8 L888.3 246.0 L889.2 258.6 L890.1 256.5 L891.0 252.6 L891.9 252.2 L892.7 252.0 L893.6 256.1 L894.5 257.2 L895.4 251.7 L896.3 241.9 L897.2 238.8 L898.0 244.2 L898.9 246.2 L899.8 246.1 L900.7 253.6 L901.6 248.8 L902.4 255.6 L903.3 257.8 L904.2 271.3 L905.1 289.0 L906.0 293.7 L906.9 301.0 L907.7 304.2 L908.6 307.1 L909.5 301.0 L910.4 296.7 L911.3 289.5 L912.2 287.4 L913.0 297.1 L913.9 297.5 L914.8 316.4 L915.7 307.8 L916.6 291.2 L917.5 279.2 L918.3 287.0 L919.2 288.1" fill="none" stroke="#bb4442" stroke-width="3.2" stroke-linejoin="round" stroke-linecap="round"/><path d="M40.8 449.8 L41.8 448.2 L42.8 446.2 L43.8 447.1 L44.7 445.7 L45.7 449.3 L46.7 447.0 L47.6 449.6 L48.6 447.5 L49.6 447.4 L50.5 447.1 L51.5 447.4 L52.4 446.6 L53.4 445.7 L54.4 446.6 L55.3 446.5 L56.3 447.1 L57.3 447.1 L58.2 445.2 L59.2 446.3 L60.1 444.0 L61.0 445.9 L62.0 443.2 L62.9 440.8 L63.8 441.1 L64.8 441.8 L65.7 442.3 L66.7 440.9 L67.6 444.6 L68.5 442.7 L69.5 443.4 L70.4 444.4 L71.3 448.2 L72.2 446.2 L73.1 449.4 L74.0 449.5 L74.9 449.1 L75.9 451.3 L76.8 448.1 L77.8 448.8 L78.8 448.2 L79.7 448.3 L80.7 448.2 L81.6 450.3 L82.5 448.0 L83.4 449.5 L84.3 446.4 L85.2 446.8 L86.1 447.8 L87.0 447.7 L87.9 448.4 L88.8 447.8 L89.7 449.3 L90.6 449.4 L91.6 449.6 L92.6 450.2 L93.5 451.0 L94.5 449.7 L95.5 449.0 L96.4 450.3 L97.4 453.6 L98.3 451.6 L99.2 451.3 L100.2 451.6 L101.1 453.4 L102.0 450.9 L103.0 452.9 L103.9 452.8 L104.9 451.5 L105.8 454.1 L106.7 452.5 L107.7 452.3 L108.6 454.1 L109.5 453.6 L110.4 453.0 L111.3 454.7 L112.2 452.4 L113.1 454.8 L114.0 454.4 L114.9 455.9 L115.8 451.9 L116.7 453.9 L117.6 452.4 L118.4 456.6 L119.3 455.3 L120.2 456.0 L121.1 458.5 L122.0 456.6 L122.9 459.1 L123.8 457.3 L124.7 457.7 L125.6 458.3 L126.6 457.0 L127.6 457.0 L128.5 457.9 L129.5 458.1 L130.5 458.1 L131.4 456.6 L132.4 460.7 L133.3 457.6 L134.3 458.9 L135.2 457.1 L136.1 456.6 L137.1 456.7 L138.0 457.1 L139.0 452.1 L140.0 455.9 L141.0 456.0 L141.9 456.3 L142.9 457.5 L143.9 456.9 L144.8 453.7 L145.7 456.5 L146.6 458.5 L147.4 457.2 L148.3 455.7 L149.2 456.7 L150.1 457.0 L151.0 455.0 L151.9 458.4 L152.7 458.1 L153.6 454.9 L154.5 456.0 L155.4 457.1 L156.3 456.5 L157.2 456.9 L158.0 457.0 L158.9 457.6 L159.8 454.3 L160.7 456.1 L161.6 455.3 L162.4 454.6 L163.3 454.2 L164.2 454.4 L165.1 453.0 L166.0 454.5 L166.9 453.2 L167.7 453.8 L168.6 451.1 L169.5 453.6 L170.4 452.1 L171.3 450.4 L172.2 452.3 L173.0 453.8 L173.9 453.1 L174.8 453.8 L175.7 455.8 L176.6 453.9 L177.5 453.1 L178.3 453.4 L179.2 451.7 L180.1 452.1 L181.0 452.5 L181.9 453.3 L182.7 450.7 L183.6 452.8 L184.5 452.8 L185.4 451.3 L186.3 453.9 L187.2 454.2 L188.0 454.5 L188.9 453.2 L189.8 455.3 L190.7 452.3 L191.6 454.1 L192.5 457.0 L193.3 456.0 L194.2 457.2 L195.1 457.0 L196.0 455.9 L196.9 457.0 L197.8 459.0 L198.6 457.4 L199.5 460.3 L200.4 460.9 L201.3 460.4 L202.2 458.2 L203.0 459.2 L203.9 459.2 L204.8 459.7 L205.7 459.1 L206.6 459.3 L207.5 457.2 L208.3 458.7 L209.2 458.4 L210.1 457.1 L211.0 458.4 L211.9 453.5 L212.8 452.7 L213.6 457.1 L214.5 453.3 L215.4 452.4 L216.3 453.9 L217.2 452.9 L218.1 452.6 L218.9 451.8 L219.8 452.7 L220.7 452.7 L221.6 452.2 L222.5 454.7 L223.3 454.1 L224.2 453.8 L225.1 455.2 L226.0 453.9 L226.9 454.4 L227.8 452.9 L228.6 452.0 L229.5 450.5 L230.4 454.1 L231.3 452.1 L232.2 454.2 L233.1 452.4 L233.9 451.5 L234.8 450.3 L235.7 450.7 L236.5 449.5 L237.2 448.5 L238.0 448.7 L238.9 450.9 L239.8 453.1 L240.6 452.0 L241.5 453.7 L242.4 455.0 L243.3 451.9 L244.2 453.7 L245.1 452.3 L245.9 452.8 L246.8 450.8 L247.7 451.7 L248.6 453.0 L249.5 450.1 L250.4 452.6 L251.2 451.7 L252.1 450.1 L253.0 451.3 L253.9 449.9 L254.8 449.5 L255.7 451.5 L256.5 451.9 L257.4 451.5 L258.3 451.0 L259.2 451.4 L260.1 452.8 L260.9 452.6 L261.8 454.4 L262.7 453.7 L263.6 450.7 L264.5 449.1 L265.4 449.3 L266.2 449.1 L267.1 449.5 L268.0 448.6 L268.9 447.9 L269.8 445.8 L270.7 443.0 L271.5 445.0 L272.4 442.6 L273.3 440.2 L274.2 439.4 L275.1 434.4 L276.0 437.4 L276.8 437.6 L277.7 437.1 L278.6 435.3 L279.5 436.3 L280.4 436.1 L281.2 434.8 L282.1 436.5 L283.0 435.7 L283.9 435.9 L284.8 437.9 L285.7 435.5 L286.5 436.6 L287.4 435.5 L288.3 437.6 L289.2 437.5 L290.1 437.8 L291.0 438.0 L291.8 434.6 L292.7 434.1 L293.6 436.0 L294.5 433.2 L295.4 434.5 L296.3 434.2 L297.1 435.8 L298.0 434.4 L298.9 436.2 L299.8 437.2 L300.7 434.9 L301.5 435.3 L302.4 435.6 L303.3 436.9 L304.2 433.8 L305.1 435.6 L306.0 435.7 L306.8 436.1 L307.7 433.8 L308.6 435.4 L309.5 432.4 L310.4 433.7 L311.3 432.2 L312.1 432.7 L313.0 430.1 L313.9 431.7 L314.8 430.2 L315.7 428.2 L316.6 431.0 L317.4 428.6 L318.3 430.9 L319.2 432.4 L320.1 432.5 L321.0 431.4 L321.8 433.7 L322.7 434.0 L323.6 434.0 L324.5 436.1 L325.4 435.7 L326.3 436.7 L327.1 436.1 L328.0 436.7 L328.9 435.6 L329.8 436.8 L330.7 433.3 L331.6 436.9 L332.4 434.8 L333.3 436.7 L334.2 434.3 L335.1 437.4 L336.0 434.6 L336.9 435.5 L337.7 435.1 L338.6 435.6 L339.5 434.9 L340.4 434.6 L341.3 436.5 L342.1 433.8 L343.0 434.3 L343.9 435.8 L344.8 433.8 L345.7 432.5 L346.6 431.2 L347.4 434.6 L348.3 432.7 L349.2 429.9 L350.1 430.0 L351.0 431.9 L351.9 430.4 L352.7 429.3 L353.6 428.5 L354.5 428.0 L355.4 428.7 L356.3 424.5 L357.2 425.4 L358.0 425.2 L358.9 426.9 L359.8 430.6 L360.7 426.6 L361.6 429.5 L362.4 431.0 L363.3 430.1 L364.2 428.4 L365.1 427.3 L366.0 428.5 L366.9 425.0 L367.7 426.8 L368.6 427.2 L369.5 426.6 L370.4 426.1 L371.3 424.7 L372.2 425.9 L373.0 425.0 L373.9 425.5 L374.8 422.5 L375.7 420.6 L376.6 419.8 L377.5 421.0 L378.3 421.3 L379.2 420.9 L380.1 420.0 L381.0 418.2 L381.9 417.4 L382.7 416.8 L383.6 414.2 L384.5 412.8 L385.4 415.1 L386.3 415.1 L387.2 414.4 L388.0 414.5 L388.9 413.7 L389.8 413.7 L390.7 412.3 L391.6 413.8 L392.5 409.7 L393.3 411.2 L394.2 412.0 L395.1 415.2 L396.0 416.3 L396.9 417.2 L397.8 419.8 L398.6 419.4 L399.5 421.7 L400.4 420.1 L401.3 420.3 L402.2 421.0 L403.0 420.0 L403.9 421.6 L404.8 422.7 L405.7 422.5 L406.6 419.7 L407.5 423.1 L408.3 421.7 L409.2 422.0 L410.1 421.3 L411.0 419.4 L411.9 418.9 L412.8 419.4 L413.6 415.0 L414.5 416.1 L415.4 414.7 L416.3 414.6 L417.2 412.4 L418.1 412.9 L418.9 408.7 L419.8 410.1 L420.7 407.4 L421.6 407.5 L422.5 410.5 L423.3 407.0 L424.2 407.9 L425.1 406.1 L426.0 404.4 L426.9 409.5 L427.8 406.1 L428.6 402.9 L429.5 404.1 L430.4 403.6 L431.4 403.4 L432.3 402.7 L433.3 400.4 L434.2 401.1 L435.2 399.6 L436.1 396.7 L437.1 398.9 L438.0 398.3 L438.9 396.0 L439.8 394.9 L440.6 392.1 L441.5 392.7 L442.4 389.8 L443.3 387.6 L444.2 388.1 L445.1 387.3 L445.9 385.2 L446.8 385.4 L447.7 384.1 L448.6 382.7 L449.5 384.7 L450.4 386.4 L451.2 386.1 L452.1 385.3 L453.0 387.0 L453.9 391.8 L454.8 392.0 L455.7 396.1 L456.5 394.6 L457.4 393.8 L458.3 394.0 L459.2 396.6 L460.1 391.5 L460.9 394.2 L461.8 390.8 L462.7 389.6 L463.6 388.3 L464.5 387.7 L465.4 388.0 L466.2 386.0 L467.1 384.6 L468.0 386.5 L468.9 387.7 L469.8 389.7 L470.7 388.7 L471.5 392.3 L472.4 387.2 L473.3 388.1 L474.2 387.5 L475.1 383.5 L476.0 386.9 L476.8 389.8 L477.7 390.0 L478.6 389.2 L479.5 391.3 L480.4 393.6 L481.2 388.9 L482.1 384.5 L483.0 382.9 L483.9 377.7 L484.8 373.8 L485.7 369.7 L486.5 372.1 L487.4 373.9 L488.3 371.6 L489.2 371.0 L490.1 371.1 L491.0 373.6 L491.8 374.9 L492.7 375.7 L493.6 377.0 L494.5 379.5 L495.4 380.2 L496.3 383.7 L497.1 386.8 L498.0 389.1 L498.9 387.2 L499.8 390.7 L500.7 392.0 L501.5 392.8 L502.4 392.3 L503.3 392.7 L504.2 393.3 L505.1 394.3 L506.0 391.6 L506.8 390.0 L507.7 386.2 L508.6 383.8 L509.5 388.3 L510.4 389.9 L511.3 395.8 L512.1 397.3 L513.0 398.3 L513.9 401.1 L514.8 401.3 L515.7 402.9 L516.6 401.4 L517.4 403.3 L518.3 402.3 L519.2 402.0 L520.1 402.2 L521.0 402.6 L521.8 408.0 L522.7 409.9 L523.6 414.3 L524.5 420.9 L525.4 427.5 L526.3 430.1 L527.0 433.5 L527.7 437.5 L528.5 436.3 L529.4 440.4 L530.3 439.1 L531.2 442.1 L532.1 437.0 L533.0 437.0 L533.8 438.1 L534.7 436.0 L535.6 434.7 L536.5 437.4 L537.4 439.1 L538.3 440.9 L539.1 443.2 L540.0 445.2 L540.9 444.9 L541.8 449.7 L542.7 448.0 L543.5 446.7 L544.4 444.8 L545.3 446.3 L546.2 446.8 L547.1 444.8 L548.0 441.6 L548.8 440.0 L549.7 442.0 L550.6 439.5 L551.5 438.0 L552.4 438.2 L553.3 433.3 L554.1 435.7 L555.0 434.1 L555.9 433.7 L556.8 434.2 L557.7 435.3 L558.6 437.8 L559.4 438.0 L560.3 438.5 L561.2 442.0 L562.1 442.1 L563.0 441.4 L563.8 442.0 L564.7 441.2 L565.6 442.3 L566.5 440.0 L567.4 437.0 L568.3 439.5 L569.1 440.7 L570.0 442.5 L570.9 442.6 L571.8 443.6 L572.7 445.4 L573.6 448.4 L574.4 446.5 L575.3 448.6 L576.2 446.1 L577.1 448.8 L578.0 450.7 L578.9 451.0 L579.7 453.0 L580.6 447.2 L581.5 448.0 L582.4 449.3 L583.3 447.2 L584.1 447.3 L585.0 443.8 L585.9 442.4 L586.8 442.3 L587.7 444.0 L588.6 441.5 L589.4 442.8 L590.3 439.1 L591.2 439.3 L592.1 440.7 L593.0 439.2 L593.9 441.6 L594.9 439.8 L595.9 441.1 L596.8 439.0 L597.8 439.4 L598.8 441.5 L599.7 443.0 L600.7 443.3 L601.6 443.3 L602.6 443.7 L603.6 443.1 L604.4 442.5 L605.3 440.8 L606.2 440.8 L607.1 439.0 L608.0 441.0 L608.9 440.4 L609.7 439.0 L610.6 442.0 L611.5 445.5 L612.4 446.4 L613.3 445.8 L614.2 447.2 L615.0 449.4 L615.9 447.6 L616.8 448.8 L617.7 449.3 L618.6 451.4 L619.5 451.6 L620.3 448.9 L621.2 451.1 L622.1 451.5 L623.0 453.5 L623.9 450.4 L624.7 452.6 L625.6 452.2 L626.5 452.7 L627.4 452.6 L628.3 453.1 L629.2 453.2 L630.0 447.3 L630.9 450.3 L631.8 451.2 L632.7 451.2 L633.6 450.6 L634.5 449.9 L635.3 451.6 L636.2 452.0 L637.1 450.6 L638.0 451.2 L638.9 450.4 L639.8 452.8 L640.6 452.4 L641.5 452.3 L642.4 453.5 L643.3 452.6 L644.2 453.9 L645.1 454.3 L645.9 452.5 L646.8 451.6 L647.7 453.5 L648.6 453.5 L649.5 453.3 L650.4 450.8 L651.2 451.6 L652.1 448.8 L653.0 450.7 L653.9 448.2 L654.8 447.6 L655.7 447.1 L656.5 445.4 L657.4 445.1 L658.3 443.3 L659.2 442.7 L660.1 443.7 L660.9 442.8 L661.8 443.5 L662.7 442.4 L663.6 442.4 L664.5 441.6 L665.4 441.9 L666.2 437.6 L667.1 442.5 L668.0 440.1 L668.9 440.1 L669.8 438.8 L670.7 438.9 L671.5 436.3 L672.4 435.2 L673.3 439.4 L674.2 435.7 L675.1 437.4 L676.0 438.3 L676.8 439.2 L677.7 438.6 L678.6 441.4 L679.5 438.4 L680.4 438.3 L681.2 436.0 L682.1 435.6 L683.0 437.1 L683.9 437.7 L684.8 436.9 L685.7 437.0 L686.5 439.1 L687.4 438.7 L688.3 440.7 L689.2 438.8 L690.1 439.9 L691.0 443.4 L691.8 440.9 L692.7 443.5 L693.6 443.1 L694.5 446.5 L695.4 443.9 L696.3 443.9 L697.1 442.8 L698.0 444.6 L698.9 445.2 L699.8 446.5 L700.7 445.6 L701.5 446.4 L702.4 445.5 L703.3 445.1 L704.2 448.0 L705.1 448.7 L706.0 448.7 L706.8 448.0 L707.7 449.3 L708.6 448.9 L709.5 449.1 L710.4 449.9 L711.3 451.1 L712.1 449.8 L713.0 451.2 L713.9 451.1 L714.8 449.7 L715.7 449.2 L716.6 449.5 L717.4 448.5 L718.3 449.8 L719.2 447.6 L720.1 447.6 L721.0 447.0 L721.8 449.2 L722.7 448.1 L723.6 446.8 L724.5 448.2 L725.4 446.4 L726.3 448.5 L727.1 447.6 L728.0 449.9 L728.9 447.8 L729.8 448.7 L730.7 450.5 L731.6 451.5 L732.4 450.6 L733.3 452.2 L734.2 451.0 L735.1 452.3 L736.0 454.3 L736.9 451.4 L737.7 455.5 L738.6 457.2 L739.5 457.5 L740.4 458.4 L741.3 455.1 L742.1 454.4 L743.0 453.8 L743.9 453.3 L744.8 452.4 L745.7 452.2 L746.6 450.0 L747.4 449.4 L748.3 448.9 L749.2 449.2 L750.1 447.9 L751.0 444.9 L751.9 445.6 L752.7 444.2 L753.6 441.1 L754.5 441.9 L755.4 443.1 L756.3 442.2 L757.2 438.8 L758.0 436.1 L758.9 434.9 L759.8 429.6 L760.7 428.6 L761.6 430.3 L762.4 428.4 L763.3 430.6 L764.2 431.4 L765.1 427.8 L766.0 429.1 L766.9 428.5 L767.7 427.9 L768.6 427.4 L769.5 424.9 L770.4 424.7 L771.3 424.8 L772.2 422.9 L773.0 421.9 L773.9 420.6 L774.8 419.5 L775.7 418.4 L776.6 416.7 L777.5 415.5 L778.0 414.9 L778.9 417.0 L779.8 420.2 L780.6 423.0 L781.5 418.2 L782.4 414.2 L783.3 406.8 L784.2 407.5 L785.1 407.6 L785.9 408.8 L786.8 409.1 L787.7 405.4 L788.6 404.7 L789.5 406.2 L790.4 404.6 L791.2 401.4 L792.1 403.6 L793.0 403.4 L793.9 400.3 L794.8 404.8 L795.7 407.0 L796.5 408.9 L797.4 411.2 L798.3 408.5 L799.2 410.9 L800.1 408.3 L800.9 406.1 L801.8 406.8 L802.7 404.9 L803.6 404.4 L804.5 404.2 L805.4 403.2 L806.2 402.9 L807.1 401.1 L808.0 401.9 L808.9 397.7 L809.8 396.9 L810.7 395.3 L811.5 396.8 L812.4 395.9 L813.3 392.6 L814.2 391.9 L815.1 391.3 L816.0 390.7 L816.8 389.2 L817.7 387.7 L818.6 385.9 L819.5 383.4 L820.4 381.5 L821.2 383.4 L822.1 383.5 L823.0 382.6 L823.9 381.0 L824.8 380.1 L825.7 382.2 L826.5 384.0 L827.4 381.5 L828.3 384.3 L829.2 384.5 L830.1 383.9 L831.0 384.9 L831.8 384.3 L832.7 385.4 L833.6 385.5 L834.5 389.8 L835.4 387.6 L836.3 388.5 L837.1 395.3 L838.0 402.9 L838.9 398.7 L839.8 395.3 L840.7 392.7 L841.5 389.7 L842.4 388.5 L843.3 386.4 L844.2 389.1 L845.1 383.5 L846.0 383.2 L846.8 384.9 L847.7 385.2 L848.6 382.5 L849.5 383.2 L850.4 383.0 L851.3 380.0 L852.1 381.9 L853.0 385.1 L853.9 384.1 L854.8 388.2 L855.7 385.7 L856.6 390.1 L857.4 389.5 L858.3 390.2 L859.2 388.4 L860.1 389.3 L861.0 388.4 L861.8 384.9 L862.7 386.5 L863.6 384.3 L864.5 381.9 L865.4 384.8 L866.3 383.0 L867.1 383.2 L868.0 384.3 L868.9 386.1 L869.8 384.5 L870.7 385.6 L871.6 386.6 L872.4 389.9 L873.3 389.5 L874.2 392.7 L875.1 392.3 L876.0 389.2 L876.9 387.9 L877.7 389.9 L878.6 388.9 L879.5 387.4 L880.4 386.2 L881.3 387.1 L882.1 384.9 L883.0 386.1 L883.9 381.7 L884.8 385.4 L885.7 385.2 L886.6 386.5 L887.5 381.4 L888.4 382.8 L889.3 381.1 L890.2 382.6 L891.2 382.9 L892.1 380.4 L893.0 378.4 L894.0 377.4 L894.9 378.4 L895.8 375.7 L896.7 376.7 L897.6 378.8 L898.5 378.8 L899.4 377.7 L900.3 380.8 L901.2 383.2 L902.0 383.0 L902.9 386.5 L903.7 388.1 L904.6 390.8 L905.5 391.7 L906.4 396.0 L907.3 394.3 L908.2 396.7 L909.0 396.3 L909.7 396.5 L910.4 396.8 L911.2 393.0 L911.9 390.2 L912.7 388.4 L913.6 389.1 L914.5 388.5 L915.4 389.8 L916.3 390.3 L917.2 391.8 L917.9 390.8 L918.7 390.1 L919.4 392.2" fill="none" stroke="#8aaa4c" stroke-width="3.2" stroke-linejoin="round" stroke-linecap="round"/><path d="M40.8 443.2 L41.8 445.2 L42.8 446.5 L43.8 438.0 L44.7 443.4 L45.6 442.4 L46.5 442.6 L47.4 440.7 L48.3 438.5 L49.2 437.4 L50.1 439.2 L51.0 439.5 L51.9 442.3 L52.8 435.9 L53.7 440.1 L54.6 437.5 L55.5 436.6 L56.4 440.8 L57.3 433.9 L58.2 432.7 L59.1 429.6 L60.0 431.9 L60.9 426.5 L61.8 425.5 L62.7 420.5 L63.7 421.1 L64.6 420.1 L65.5 419.8 L66.5 412.6 L67.4 415.5 L68.3 414.8 L69.2 412.6 L70.0 417.4 L70.9 416.4 L71.7 417.9 L72.5 417.6 L73.2 412.1 L74.0 412.6 L74.7 410.8 L75.5 413.9 L76.2 413.0 L77.0 415.9 L77.9 414.8 L78.7 416.6 L79.6 414.7 L80.3 420.3 L81.1 423.2 L81.8 418.6 L82.7 424.7 L83.5 423.7 L84.3 429.3 L85.2 431.1 L86.0 428.9 L86.9 432.4 L87.7 431.3 L88.6 439.5 L89.4 432.0 L90.2 432.1 L91.1 429.2 L91.9 431.7 L92.8 430.5 L93.6 429.1 L94.5 423.7 L95.3 422.2 L96.2 422.7 L97.1 420.9 L98.0 420.5 L98.9 416.9 L99.8 415.9 L100.6 416.3 L101.5 412.8 L102.3 411.6 L103.2 414.4 L104.1 411.5 L105.0 413.1 L105.9 412.6 L106.8 412.9 L107.7 415.3 L108.4 413.4 L109.2 413.1 L109.9 417.1 L110.7 419.1 L111.4 418.6 L112.2 424.8 L113.1 417.1 L114.0 416.7 L114.9 413.8 L115.8 416.6 L116.7 411.2 L117.5 412.3 L118.3 407.8 L119.2 407.1 L120.0 400.7 L120.9 401.4 L121.7 402.9 L122.6 397.1 L123.4 399.2 L124.3 398.5 L125.2 399.8 L126.1 397.2 L127.0 393.1 L127.9 395.6 L128.8 397.4 L129.8 399.9 L130.7 401.4 L131.6 401.5 L132.4 398.8 L133.3 395.9 L134.2 399.6 L135.1 395.0 L136.0 397.1 L136.9 400.3 L137.7 401.7 L138.6 401.1 L139.5 404.2 L140.4 401.5 L141.3 403.6 L142.1 405.8 L143.0 402.2 L143.9 407.5 L144.8 404.1 L145.7 407.2 L146.6 404.4 L147.4 407.6 L148.3 402.5 L149.2 409.4 L150.1 408.4 L151.0 409.5 L151.9 407.6 L152.7 405.3 L153.6 405.7 L154.5 405.5 L155.4 405.5 L156.3 410.2 L157.2 406.8 L158.0 403.4 L158.9 403.8 L159.8 410.8 L160.7 411.2 L161.6 409.1 L162.4 411.8 L163.3 414.2 L164.2 412.5 L165.1 414.2 L166.0 411.5 L166.9 414.6 L167.7 413.8 L168.6 412.5 L169.5 409.8 L170.4 407.9 L171.3 403.5 L172.2 406.1 L173.0 403.1 L173.9 399.2 L174.8 398.2 L175.7 398.8 L176.6 395.7 L177.5 397.4 L178.3 396.4 L179.2 393.8 L180.1 397.9 L181.0 399.1 L181.9 402.3 L182.7 407.5 L183.6 408.6 L184.5 412.1 L185.4 411.3 L186.3 413.2 L187.2 408.9 L188.0 406.3 L188.9 407.9 L189.8 403.1 L190.7 403.2 L191.6 401.1 L192.4 402.9 L193.3 400.9 L194.1 399.4 L195.0 398.3 L196.0 396.4 L196.9 393.6 L197.9 394.3 L198.9 390.8 L199.8 389.8 L200.8 389.3 L201.7 384.3 L202.7 380.8 L203.6 383.5 L204.4 378.2 L205.3 375.8 L206.1 370.3 L207.0 368.3 L207.8 368.8 L208.8 370.7 L209.8 374.1 L210.7 377.4 L211.7 384.7 L212.7 377.4 L213.6 380.6 L214.6 374.2 L215.5 376.9 L216.5 376.1 L217.5 376.6 L218.4 381.9 L219.4 384.5 L220.4 381.0 L221.3 385.1 L222.3 377.1 L223.2 379.9 L224.2 378.2 L225.2 377.6 L226.1 379.3 L227.1 381.7 L228.1 382.8 L229.0 381.6 L230.0 384.9 L230.9 385.2 L231.9 381.0 L232.9 378.3 L233.8 369.8 L234.8 368.9 L235.6 364.6 L236.4 360.4 L237.2 366.8 L238.0 359.5 L238.9 361.6 L239.8 360.6 L240.6 368.7 L241.5 365.0 L242.4 365.0 L243.3 362.3 L244.2 358.4 L245.1 353.1 L245.9 356.1 L246.8 357.3 L247.7 355.5 L248.6 354.6 L249.5 353.7 L250.4 354.4 L251.2 355.5 L252.1 352.1 L253.0 357.8 L253.9 360.5 L254.8 364.0 L255.7 368.8 L256.5 377.7 L257.4 381.1 L258.3 387.6 L259.2 388.9 L260.1 393.0 L260.9 395.5 L261.8 397.3 L262.7 401.0 L263.6 397.2 L264.5 398.8 L265.4 399.3 L266.2 400.0 L267.1 403.7 L268.0 405.1 L268.9 403.8 L269.8 406.0 L270.7 405.4 L271.5 402.3 L272.4 407.1 L273.3 407.7 L274.2 405.3 L275.1 407.4 L276.0 410.6 L276.8 412.0 L277.7 409.7 L278.6 408.1 L279.5 415.5 L280.4 412.7 L281.2 417.9 L282.1 415.8 L283.0 419.2 L283.9 424.7 L284.8 417.2 L285.7 417.7 L286.5 415.5 L287.4 412.1 L288.3 417.5 L289.2 419.2 L290.1 419.9 L291.0 418.7 L291.8 425.1 L292.7 423.0 L293.6 422.5 L294.5 426.6 L295.4 424.4 L296.3 427.4 L297.1 429.6 L298.0 426.8 L298.9 429.1 L299.8 436.3 L300.7 447.7 L301.5 449.0 L302.4 453.9 L303.3 451.5 L304.2 454.5 L305.1 453.6 L306.0 449.5 L306.8 446.8 L307.7 447.1 L308.6 443.9 L309.5 441.9 L310.4 441.7 L311.3 439.0 L312.1 439.8 L313.0 437.2 L313.9 439.8 L314.8 441.0 L315.7 441.1 L316.6 438.7 L317.4 433.9 L318.3 434.7 L319.2 431.2 L320.1 430.6 L321.0 436.8 L321.8 434.0 L322.7 433.9 L323.6 436.6 L324.5 431.0 L325.4 436.4 L326.3 435.8 L327.1 432.9 L328.0 431.6 L328.9 432.3 L329.8 428.7 L330.7 424.2 L331.6 426.4 L332.4 427.2 L333.3 425.5 L334.2 424.1 L335.1 424.6 L336.0 422.2 L336.9 429.8 L337.7 422.0 L338.6 418.4 L339.5 417.5 L340.4 421.7 L341.3 423.5 L342.1 421.5 L343.0 425.5 L343.9 425.4 L344.8 424.1 L345.7 421.1 L346.6 419.6 L347.4 417.3 L348.3 417.5 L349.2 419.6 L350.1 423.9 L351.0 424.1 L351.9 420.9 L352.7 422.6 L353.6 422.7 L354.5 421.6 L355.4 422.8 L356.3 420.0 L357.2 418.4 L358.0 412.5 L358.9 417.1 L359.8 413.4 L360.7 413.1 L361.6 412.4 L362.4 410.6 L363.3 412.9 L364.2 413.3 L365.1 409.7 L366.0 408.9 L366.9 410.3 L367.7 412.9 L368.6 414.8 L369.5 414.2 L370.4 413.7 L371.3 413.2 L372.2 408.4 L373.0 414.2 L373.9 416.7 L374.8 421.7 L375.7 423.6 L376.6 422.2 L377.5 423.6 L378.3 421.8 L379.2 426.8 L380.1 426.6 L381.0 429.5 L381.9 423.1 L382.7 420.8 L383.6 420.8 L384.5 418.1 L385.4 413.5 L386.3 414.9 L387.2 413.4 L388.0 408.9 L388.9 409.1 L389.8 408.5 L390.7 407.9 L391.6 406.3 L392.5 405.6 L393.3 403.6 L394.2 406.4 L395.1 407.5 L396.0 408.5 L396.9 409.8 L397.8 407.6 L398.6 402.4 L399.5 399.8 L400.4 394.5 L401.3 395.6 L402.2 391.0 L403.0 384.9 L403.9 382.2 L404.8 379.4 L405.7 381.3 L406.6 376.3 L407.5 372.5 L408.3 377.0 L409.2 373.4 L410.1 371.2 L411.0 370.2 L411.9 368.0 L412.8 368.0 L413.6 368.9 L414.5 375.9 L415.4 374.9 L416.3 378.8 L417.2 376.8 L418.1 379.8 L418.9 379.4 L419.8 378.0 L420.7 378.7 L421.6 381.5 L422.5 375.7 L423.3 373.8 L424.2 372.4 L425.1 367.5 L426.0 368.7 L426.9 364.3 L427.8 371.9 L428.6 369.9 L429.5 369.0 L430.4 376.2 L431.3 379.6 L432.2 381.9 L433.1 382.9 L434.1 386.5 L435.1 384.7 L436.1 386.9 L437.0 392.5 L438.0 391.4 L438.9 390.6 L439.8 385.4 L440.6 380.2 L441.5 382.0 L442.4 377.9 L443.3 376.1 L444.2 378.3 L445.1 370.5 L445.9 376.8 L446.8 378.2 L447.7 376.4 L448.6 380.7 L449.5 375.2 L450.4 372.9 L451.2 367.2 L452.1 365.4 L453.0 367.9 L453.9 371.8 L454.8 371.3 L455.7 377.9 L456.5 376.1 L457.4 375.8 L458.3 375.8 L459.2 378.5 L460.1 369.0 L460.9 359.9 L461.8 356.7 L462.7 355.7 L463.6 358.5 L464.5 351.7 L465.4 352.5 L466.2 354.2 L467.1 350.5 L468.0 347.6 L468.9 355.5 L469.8 344.6 L470.7 337.1 L471.5 327.2 L472.4 324.6 L473.3 320.5 L474.2 321.8 L475.1 315.4 L476.0 314.7 L476.8 309.2 L477.7 308.0 L478.6 301.2 L479.5 308.1 L480.4 307.1 L481.2 311.8 L482.1 302.7 L483.0 302.6 L483.9 293.9 L484.8 295.0 L485.7 292.0 L486.5 295.4 L487.4 294.8 L488.3 289.7 L489.2 282.4 L490.1 281.0 L491.0 275.1 L491.8 281.0 L492.7 282.9 L493.6 286.5 L494.5 292.4 L495.4 294.5 L496.3 302.9 L497.1 303.5 L498.0 305.4 L498.9 306.2 L499.8 311.2 L500.7 318.0 L501.5 320.5 L502.4 323.4 L503.3 327.8 L504.2 334.8 L505.1 332.5 L506.0 337.0 L506.8 341.4 L507.7 330.9 L508.6 326.0 L509.5 323.7 L510.4 325.4 L511.3 338.4 L512.1 343.7 L513.0 343.6 L513.9 345.0 L514.8 346.1 L515.7 349.5 L516.6 349.0 L517.4 352.3 L518.3 355.9 L519.2 361.4 L520.1 364.4 L521.0 368.1 L521.8 374.9 L522.7 379.4 L523.6 385.4 L524.5 389.6 L525.4 397.6 L526.3 404.7 L527.1 410.0 L527.8 415.2 L528.6 423.6 L529.4 432.0 L530.3 434.2 L531.2 437.7 L532.1 441.5 L533.0 440.3 L533.8 438.6 L534.7 434.2 L535.6 437.8 L536.5 449.9 L537.4 445.4 L538.3 455.1 L539.1 457.6 L540.0 459.1 L540.9 461.9 L541.8 465.3 L542.7 467.6 L543.5 470.4 L544.4 473.3 L545.3 479.7 L546.2 489.6 L547.1 487.8 L548.0 483.8 L548.8 480.7 L549.7 486.1 L550.6 488.0 L551.5 490.5 L552.4 499.0 L553.3 493.8 L554.1 490.5 L555.0 487.3 L555.9 481.8 L556.8 476.8 L557.7 481.3 L558.6 481.1 L559.4 486.9 L560.3 487.8 L561.2 489.6 L562.1 490.5 L563.0 489.3 L563.8 487.5 L564.7 487.7 L565.6 485.2 L566.5 483.5 L567.4 487.8 L568.3 486.2 L569.1 488.3 L570.0 490.9 L570.9 493.0 L571.8 497.5 L572.7 502.1 L573.6 499.6 L574.4 496.2 L575.3 496.5 L576.2 492.8 L577.1 493.2 L578.0 496.6 L578.9 492.6 L579.7 498.4 L580.6 492.3 L581.5 487.3 L582.4 487.4 L583.3 482.1 L584.1 477.5 L585.0 478.8 L585.9 482.8 L586.8 486.1 L587.7 488.4 L588.6 485.2 L589.4 481.6 L590.3 483.3 L591.2 479.3 L592.1 479.9 L593.0 482.1 L593.9 483.8 L594.7 488.5 L595.6 486.2 L596.5 483.2 L597.4 480.7 L598.3 480.2 L599.2 479.2 L600.0 475.2 L600.9 475.8 L601.8 468.9 L602.7 474.3 L603.6 471.8 L604.4 471.3 L605.3 468.7 L606.2 467.8 L607.1 462.4 L608.0 461.1 L608.9 460.6 L609.7 456.5 L610.6 453.4 L611.5 455.0 L612.4 448.7 L613.3 454.0 L614.2 458.5 L615.0 456.9 L615.9 460.7 L616.8 456.7 L617.7 455.6 L618.6 454.3 L619.5 451.9 L620.3 458.0 L621.2 460.1 L622.1 469.8 L623.0 472.5 L623.9 469.9 L624.7 466.4 L625.6 465.9 L626.5 459.9 L627.4 459.5 L628.3 455.0 L629.2 456.9 L630.0 451.7 L630.9 453.4 L631.8 451.4 L632.7 453.2 L633.6 453.5 L634.5 453.3 L635.3 457.8 L636.2 452.6 L637.1 455.1 L638.0 449.2 L638.9 455.3 L639.8 457.7 L640.6 456.0 L641.5 460.4 L642.4 460.7 L643.3 461.8 L644.2 463.5 L645.1 460.1 L645.9 461.3 L646.8 462.7 L647.7 463.6 L648.6 467.1 L649.5 468.4 L650.4 467.6 L651.2 468.5 L652.1 465.9 L653.0 465.1 L653.9 462.9 L654.8 459.8 L655.7 451.7 L656.5 452.3 L657.4 447.4 L658.3 446.8 L659.2 447.4 L660.1 446.1 L660.9 451.0 L661.8 452.3 L662.7 451.9 L663.6 451.0 L664.5 448.8 L665.4 451.1 L666.2 451.6 L667.1 449.5 L668.0 454.0 L668.9 453.9 L669.8 451.3 L670.7 452.0 L671.5 454.9 L672.4 450.5 L673.3 449.1 L674.2 451.0 L675.1 452.6 L676.0 455.8 L676.8 458.3 L677.7 458.6 L678.6 449.7 L679.5 455.5 L680.4 453.5 L681.2 449.5 L682.1 449.3 L683.0 442.9 L683.9 442.9 L684.8 443.6 L685.7 437.6 L686.5 440.1 L687.4 442.5 L688.3 443.7 L689.2 446.3 L690.1 447.1 L691.0 449.5 L691.8 453.2 L692.7 455.1 L693.6 452.4 L694.5 453.4 L695.4 456.5 L696.3 455.7 L697.1 455.7 L698.0 450.7 L698.9 449.8 L699.8 449.3 L700.7 444.7 L701.5 437.7 L702.4 434.9 L703.3 437.0 L704.2 438.2 L705.1 437.2 L706.0 439.2 L706.8 435.4 L707.7 436.1 L708.6 437.6 L709.5 436.4 L710.4 433.7 L711.3 437.2 L712.1 439.6 L713.0 437.6 L713.9 439.6 L714.8 438.1 L715.7 433.2 L716.6 436.0 L717.4 427.2 L718.3 431.1 L719.2 429.0 L720.1 432.7 L721.0 431.8 L721.8 432.5 L722.7 433.6 L723.6 426.4 L724.5 426.4 L725.4 425.9 L726.3 423.4 L727.1 431.0 L728.0 437.5 L728.9 442.6 L729.8 443.0 L730.7 443.9 L731.6 441.4 L732.4 448.4 L733.3 451.2 L734.2 455.0 L735.1 453.2 L736.0 451.0 L736.9 450.7 L737.7 447.1 L738.6 446.2 L739.5 446.5 L740.4 446.3 L741.3 441.3 L742.1 442.4 L743.0 442.8 L743.9 446.4 L744.8 445.4 L745.7 450.4 L746.6 450.0 L747.4 454.3 L748.3 452.6 L749.2 454.5 L750.1 452.7 L751.0 450.7 L751.9 454.6 L752.7 451.3 L753.6 452.3 L754.5 445.6 L755.4 448.0 L756.3 447.9 L757.2 447.6 L758.0 444.9 L758.9 446.2 L759.8 441.3 L760.7 445.9 L761.6 445.5 L762.4 447.7 L763.3 450.9 L764.2 450.8 L765.1 453.6 L766.0 450.3 L766.9 456.4 L767.7 455.3 L768.6 452.6 L769.5 452.1 L770.4 450.5 L771.3 448.9 L772.2 445.1 L773.1 450.0 L774.1 445.7 L775.1 446.3 L776.1 447.3 L777.0 444.2 L778.0 444.1 L778.9 443.2 L779.8 441.0 L780.6 440.4 L781.5 434.9 L782.4 432.0 L783.3 435.3 L784.2 433.7 L785.1 437.1 L785.9 441.0 L786.8 439.0 L787.7 436.3 L788.6 435.0 L789.5 436.4 L790.4 436.9 L791.2 428.7 L792.1 428.1 L793.0 431.4 L793.9 431.2 L794.8 426.9 L795.7 430.8 L796.5 433.0 L797.4 429.8 L798.3 429.7 L799.2 429.4 L800.1 424.7 L800.9 422.8 L801.8 420.5 L802.7 420.2 L803.6 417.4 L804.5 416.3 L805.4 413.8 L806.2 414.0 L807.1 415.6 L808.0 409.6 L808.9 406.6 L809.8 410.4 L810.7 409.3 L811.5 406.7 L812.4 404.4 L813.3 401.5 L814.2 404.4 L815.1 405.7 L816.0 409.1 L816.8 406.8 L817.7 408.2 L818.6 407.4 L819.5 403.3 L820.4 405.6 L821.2 402.6 L822.1 401.1 L823.0 398.4 L823.9 399.3 L824.8 400.0 L825.7 400.8 L826.5 402.5 L827.4 400.4 L828.3 398.1 L829.2 398.1 L830.1 392.5 L831.0 385.9 L831.8 385.8 L832.7 386.6 L833.6 383.5 L834.5 384.8 L835.4 382.9 L836.3 382.9 L837.1 380.6 L838.0 388.8 L838.9 381.0 L839.8 382.7 L840.7 380.6 L841.5 379.9 L842.4 378.6 L843.3 373.6 L844.2 369.5 L845.1 367.0 L846.0 364.4 L846.8 366.5 L847.7 365.3 L848.6 363.9 L849.5 365.8 L850.4 363.9 L851.3 360.2 L852.1 362.1 L852.8 354.7 L853.6 356.9 L854.3 356.4 L855.0 362.6 L855.7 375.9 L856.6 375.0 L857.4 379.4 L858.3 379.3 L859.2 377.2 L860.1 384.4 L861.0 384.1 L861.8 383.3 L862.7 383.8 L863.6 386.0 L864.5 378.1 L865.4 379.0 L866.3 378.4 L867.1 375.3 L868.0 372.6 L868.9 372.6 L869.8 372.2 L870.7 380.6 L871.6 386.4 L872.4 392.6 L873.3 396.3 L873.4 398.0 L874.2 394.9 L875.1 388.7 L875.9 392.4 L876.7 390.8 L877.6 383.0 L878.5 381.5 L879.4 380.2 L880.3 379.0 L881.2 380.0 L882.1 377.6 L882.9 375.5 L883.8 376.9 L884.6 375.5 L885.4 380.6 L886.3 378.0 L887.1 381.8 L888.0 384.6 L888.8 393.0 L889.7 394.9 L890.6 397.8 L891.5 395.2 L892.5 390.1 L893.3 391.0 L894.2 389.3 L895.0 384.8 L895.8 381.7 L896.7 384.2 L897.5 384.3 L898.4 385.3 L899.2 386.8 L900.1 389.5 L901.0 390.8 L901.9 392.6 L902.8 394.7 L903.7 393.6 L904.6 393.8 L905.4 397.1 L906.2 398.2 L907.1 397.2 L907.8 401.4 L908.6 405.0 L909.3 407.9 L910.2 400.5 L911.0 398.9 L911.9 391.2 L912.7 385.7 L913.5 386.0 L914.4 387.1 L915.2 387.0 L916.1 385.9 L916.9 388.8 L917.8 387.0 L918.6 388.4 L919.4 388.7" fill="none" stroke="#7a5c9e" stroke-width="3.2" stroke-linejoin="round" stroke-linecap="round"/><path d="M40.8 443.8 L41.8 441.6 L42.8 441.8 L43.8 447.0 L44.7 441.5 L45.6 441.5 L46.5 439.1 L47.4 436.2 L48.3 437.8 L49.2 435.5 L50.1 439.3 L51.0 438.4 L51.9 439.9 L52.8 439.6 L53.7 445.5 L54.6 439.6 L55.5 438.9 L56.4 437.1 L57.3 436.4 L58.2 432.6 L59.1 433.8 L60.0 429.6 L60.9 428.9 L61.8 426.8 L62.7 420.6 L63.7 424.4 L64.6 421.1 L65.5 417.1 L66.5 419.7 L67.4 417.4 L68.3 417.3 L69.2 419.5 L70.0 422.8 L70.9 421.2 L71.7 423.7 L72.6 420.2 L73.4 418.7 L74.2 419.5 L75.1 417.5 L76.0 418.5 L76.9 420.1 L77.8 416.2 L78.7 420.0 L79.6 419.1 L80.3 421.8 L81.1 421.1 L81.8 422.4 L82.7 425.2 L83.5 428.7 L84.3 429.7 L85.2 427.4 L86.0 433.2 L86.9 434.0 L87.7 432.9 L88.6 436.3 L89.4 435.6 L90.2 434.7 L91.1 431.7 L91.9 433.6 L92.8 429.7 L93.6 430.8 L94.5 430.9 L95.3 427.3 L96.2 425.6 L97.1 423.0 L98.0 424.7 L98.9 421.0 L99.8 416.0 L100.6 416.0 L101.5 419.9 L102.3 423.6 L103.2 419.0 L104.1 415.5 L105.0 416.4 L105.9 415.6 L106.8 418.1 L107.7 416.8 L108.4 415.6 L109.2 416.9 L109.9 420.5 L110.7 420.4 L111.4 425.3 L112.2 423.9 L113.1 420.2 L114.0 422.6 L114.9 420.7 L115.8 416.5 L116.7 413.3 L117.6 412.3 L118.4 412.7 L119.3 413.0 L120.2 411.6 L121.1 411.2 L122.0 405.7 L122.9 407.6 L123.8 409.4 L124.7 405.5 L125.6 403.3 L126.5 410.2 L127.4 409.7 L128.3 410.0 L129.2 409.3 L130.1 413.6 L131.0 412.8 L131.8 412.5 L132.7 411.8 L133.5 412.9 L134.4 411.0 L135.3 409.1 L136.2 405.8 L137.1 410.2 L138.0 412.0 L138.8 411.1 L139.7 409.5 L140.5 410.9 L141.3 412.6 L142.1 409.4 L143.0 411.6 L143.9 410.6 L144.8 410.5 L145.7 406.5 L146.6 408.6 L147.4 408.2 L148.3 415.4 L149.2 416.0 L150.1 415.1 L151.0 412.5 L151.9 412.6 L152.7 414.1 L153.6 415.1 L154.5 413.4 L155.4 412.5 L156.3 410.1 L157.2 411.7 L158.0 408.7 L158.9 412.6 L159.8 407.6 L160.7 404.4 L161.6 405.8 L162.4 404.5 L163.3 406.5 L164.2 404.0 L165.1 406.7 L166.0 409.2 L166.9 407.9 L167.7 407.7 L168.6 405.9 L169.5 406.0 L170.4 403.6 L171.3 396.8 L172.2 401.6 L173.0 397.0 L173.9 393.9 L174.8 396.9 L175.7 391.4 L176.6 390.6 L177.5 389.8 L178.3 386.9 L179.2 387.4 L180.1 386.7 L181.0 387.8 L181.9 390.0 L182.7 387.7 L183.6 390.4 L184.5 391.0 L185.4 389.7 L186.3 390.6 L187.2 390.9 L188.0 391.7 L188.9 392.1 L189.8 390.2 L190.7 390.3 L191.5 390.5 L192.4 388.7 L193.3 387.6 L194.1 384.2 L195.0 382.7 L196.0 380.5 L196.9 381.9 L197.9 376.7 L198.9 375.5 L199.8 375.4 L200.8 369.3 L201.7 368.0 L202.7 364.3 L203.6 366.4 L204.4 359.7 L205.3 361.3 L206.1 358.5 L207.0 355.8 L207.8 351.1 L208.8 353.3 L209.8 354.7 L210.7 355.3 L211.7 355.3 L212.5 352.2 L213.4 353.7 L214.3 353.8 L215.2 353.4 L216.2 349.2 L217.1 352.6 L218.1 352.6 L219.1 353.8 L220.0 350.1 L221.0 349.8 L222.0 349.7 L222.9 354.8 L223.9 357.2 L224.8 358.5 L225.8 356.1 L226.8 365.3 L227.7 365.2 L228.7 366.3 L229.7 369.5 L230.6 364.5 L231.6 360.5 L232.5 360.2 L233.5 357.8 L234.4 352.7 L235.3 352.4 L236.2 349.6 L237.1 346.8 L238.0 346.6 L238.9 344.8 L239.8 344.8 L240.6 347.2 L241.5 342.7 L242.4 340.5 L243.3 342.0 L244.2 341.4 L245.1 342.6 L245.9 339.4 L246.8 339.8 L247.7 335.5 L248.6 337.4 L249.5 336.1 L250.4 335.9 L251.2 333.7 L252.1 332.8 L253.0 338.1 L253.9 340.8 L254.8 348.0 L255.7 344.8 L256.5 347.7 L257.4 349.9 L258.3 355.0 L259.2 356.7 L260.1 356.8 L260.9 356.7 L261.8 357.8 L262.7 360.8 L263.6 362.0 L264.5 362.6 L265.4 359.4 L266.2 361.1 L267.2 360.5 L268.2 360.9 L269.2 358.0 L270.2 359.5 L271.1 359.6 L272.1 356.5 L273.1 359.5 L274.1 357.7 L275.1 360.6 L276.0 358.5 L276.8 357.8 L277.7 362.1 L278.6 363.4 L279.5 363.7 L280.4 363.9 L281.2 364.4 L282.1 362.8 L283.0 364.1 L283.9 362.3 L284.8 364.2 L285.7 365.0 L286.3 364.7 L286.9 367.7 L287.8 368.8 L288.7 370.1 L289.6 373.1 L290.4 371.7 L291.3 372.9 L292.2 373.6 L293.1 376.3 L294.0 374.5 L294.9 375.1 L295.8 378.7 L296.7 378.1 L297.5 380.2 L298.4 382.2 L299.2 384.4 L299.8 387.2 L300.3 391.0 L301.2 397.7 L302.0 397.4 L302.9 402.4 L303.7 402.2 L304.6 401.6 L305.4 397.3 L306.2 400.1 L307.1 397.2 L308.0 392.3 L309.0 392.8 L309.9 393.9 L310.8 390.5 L311.8 393.0 L312.7 390.4 L313.6 389.9 L314.5 388.9 L315.4 386.6 L316.3 388.5 L317.2 385.3 L318.0 383.7 L318.9 386.6 L319.7 386.0 L320.6 388.1 L321.4 388.0 L322.2 391.8 L323.1 389.1 L323.9 388.4 L324.8 390.1 L325.7 384.9 L326.6 383.9 L327.5 383.5 L328.4 379.4 L329.3 374.8 L330.1 375.7 L331.0 375.5 L331.8 377.2 L332.7 373.1 L333.7 371.0 L334.6 371.5 L335.5 372.5 L336.5 370.0 L337.4 370.7 L338.4 372.6 L339.3 372.7 L340.2 373.2 L341.2 372.0 L342.1 371.5 L343.0 375.7 L344.0 372.4 L344.9 373.9 L345.8 372.0 L346.8 372.1 L347.7 374.7 L348.7 370.8 L349.5 374.7 L350.3 375.3 L351.2 377.4 L352.0 378.2 L353.0 378.6 L353.9 374.1 L354.8 375.9 L355.8 374.6 L356.7 368.9 L357.6 371.3 L358.6 372.1 L359.5 372.2 L360.4 372.1 L361.4 374.9 L362.3 374.3 L363.3 374.7 L364.2 374.8 L365.1 368.8 L366.0 367.5 L366.9 366.4 L367.8 361.2 L368.6 364.4 L369.4 362.7 L370.3 362.5 L371.1 364.0 L372.0 368.6 L372.9 370.8 L373.8 368.7 L374.7 369.0 L375.6 374.0 L376.5 375.0 L377.3 375.0 L378.1 381.2 L379.0 379.0 L379.9 378.2 L380.9 377.6 L381.8 373.7 L382.7 369.4 L383.6 368.9 L384.5 367.6 L385.4 365.6 L386.3 363.6 L387.2 362.1 L388.0 359.9 L388.9 361.3 L389.8 360.3 L390.7 358.3 L391.6 360.6 L392.5 357.4 L393.3 354.3 L394.2 356.6 L395.1 354.9 L396.0 355.2 L396.9 352.2 L397.8 354.3 L398.6 347.7 L399.5 347.0 L400.4 349.1 L401.3 346.1 L402.2 344.7 L403.0 337.5 L403.9 337.2 L404.8 336.7 L405.7 334.1 L406.6 331.7 L407.5 330.8 L408.3 333.1 L409.2 332.9 L410.1 335.1 L411.0 333.0 L411.9 335.6 L412.8 336.5 L413.6 341.5 L414.5 340.0 L415.4 341.2 L416.3 340.4 L417.2 338.4 L418.1 342.9 L418.9 341.3 L419.8 345.3 L420.7 344.3 L421.6 347.9 L422.5 340.5 L423.3 338.5 L424.2 340.5 L425.1 335.5 L426.0 335.1 L426.9 334.6 L427.8 330.9 L428.6 329.6 L429.5 330.7 L430.4 335.2 L431.3 341.7 L432.2 341.2 L433.1 348.1 L433.9 348.4 L434.8 347.7 L435.6 345.2 L436.4 344.0 L437.2 341.6 L438.0 341.5 L438.9 338.3 L439.8 335.8 L440.6 332.1 L441.5 328.0 L442.4 327.2 L443.3 327.7 L444.2 323.2 L445.1 324.1 L445.9 323.6 L446.8 319.4 L447.7 319.8 L448.6 318.6 L449.5 316.5 L450.4 315.5 L451.2 311.2 L452.1 308.5 L453.0 317.3 L453.9 319.5 L454.8 320.6 L455.7 326.3 L456.5 325.7 L457.4 322.4 L458.3 322.5 L459.2 321.8 L460.1 320.2 L460.9 317.8 L461.8 311.7 L462.7 311.1 L463.6 312.0 L464.5 309.9 L465.4 307.3 L466.2 306.0 L467.1 308.7 L468.0 315.8 L468.9 315.4 L469.8 316.4 L470.7 312.9 L471.5 307.4 L472.4 304.8 L473.3 298.7 L474.2 295.7 L475.1 291.8 L476.0 288.9 L476.8 280.7 L477.7 279.8 L478.6 281.2 L479.5 282.5 L480.4 277.4 L481.2 278.1 L482.1 280.0 L483.0 279.0 L483.9 279.3 L484.8 278.5 L485.7 273.3 L486.5 274.2 L487.4 268.1 L488.3 269.1 L489.2 269.3 L490.1 264.5 L491.0 259.5 L491.8 259.0 L492.7 261.7 L493.6 263.1 L494.5 261.7 L495.4 271.6 L496.3 277.9 L497.1 284.0 L498.0 285.5 L498.9 288.9 L499.8 289.6 L500.7 292.3 L501.5 302.0 L502.4 314.1 L503.3 318.2 L504.2 317.4 L505.1 324.0 L506.0 323.4 L506.8 327.5 L507.7 327.6 L508.6 328.6 L509.5 337.4 L510.4 350.3 L511.3 347.2 L512.1 348.9 L513.0 348.5 L513.9 346.6 L514.8 352.1 L515.7 354.2 L516.6 359.3 L517.4 360.0 L518.3 361.4 L519.2 360.5 L520.1 359.4 L521.0 360.4 L521.8 362.6 L522.7 368.2 L523.6 364.9 L524.5 367.9 L525.4 377.1 L526.3 385.8 L527.1 392.2 L528.0 401.7 L528.9 405.4 L529.8 405.2 L530.7 410.6 L531.6 412.2 L532.4 412.2 L533.3 415.1 L534.2 419.9 L535.1 421.5 L536.0 423.8 L536.9 425.5 L537.6 427.2 L538.4 428.5 L539.2 433.8 L540.0 436.4 L540.9 432.0 L541.8 434.3 L542.7 436.6 L543.5 444.2 L544.4 448.4 L545.3 452.9 L546.2 451.2 L547.1 449.0 L548.0 451.3 L548.8 444.7 L549.7 451.2 L550.6 456.3 L551.5 457.6 L552.4 461.4 L553.3 455.4 L554.1 453.1 L555.0 445.3 L555.9 447.8 L556.8 447.1 L557.7 448.8 L558.6 454.2 L559.4 457.8 L560.3 453.6 L561.2 454.5 L562.1 456.4 L563.0 450.7 L563.8 453.2 L564.7 448.7 L565.6 450.6 L566.5 458.0 L567.4 454.6 L568.3 454.9 L569.1 457.8 L570.0 459.7 L570.9 457.1 L571.8 459.2 L572.7 460.6 L573.6 461.5 L574.4 460.1 L575.3 458.8 L576.2 457.5 L577.1 464.1 L578.0 455.8 L578.9 461.6 L579.7 455.6 L580.6 451.4 L581.5 446.5 L582.4 445.5 L583.3 443.3 L584.1 445.0 L585.0 439.9 L585.9 441.2 L586.8 441.9 L587.7 444.8 L588.6 441.0 L589.4 443.9 L590.3 441.2 L591.2 442.6 L592.1 441.2 L593.0 445.9 L593.9 443.3 L594.7 436.9 L595.6 442.9 L596.5 438.1 L597.4 437.6 L598.3 438.9 L599.2 437.9 L600.0 437.6 L600.9 430.0 L601.8 432.6 L602.7 433.5 L603.6 434.2 L604.4 433.7 L605.3 431.1 L606.2 431.3 L607.1 429.8 L608.0 429.8 L608.9 427.6 L609.7 423.0 L610.6 422.7 L611.5 424.3 L612.4 425.0 L613.3 419.4 L614.2 420.0 L614.5 422.6 L615.4 423.7 L616.3 421.8 L617.2 418.1 L618.1 422.1 L618.9 426.0 L619.8 426.0 L620.7 429.9 L621.6 432.0 L622.5 428.5 L623.3 424.7 L624.2 425.9 L625.1 426.2 L626.0 424.3 L626.9 421.2 L627.8 417.9 L628.6 413.2 L629.5 410.8 L630.4 410.0 L631.3 410.7 L632.2 412.7 L633.1 411.0 L633.9 409.1 L634.8 411.8 L635.6 412.4 L636.4 408.4 L637.2 412.1 L638.0 412.0 L638.9 413.1 L639.8 412.9 L640.6 411.5 L641.5 410.2 L642.4 414.9 L643.3 416.3 L644.2 414.5 L645.1 417.0 L645.9 416.3 L646.8 415.7 L647.7 414.7 L648.6 419.0 L649.5 420.3 L650.4 423.0 L651.2 422.3 L652.1 415.4 L653.0 416.6 L653.9 416.6 L654.8 414.8 L655.7 410.0 L656.5 407.7 L657.4 399.2 L658.3 403.6 L659.2 401.4 L660.1 402.2 L660.9 402.4 L661.8 400.3 L662.7 401.2 L663.6 401.1 L664.5 402.3 L665.4 399.0 L666.2 399.9 L667.1 398.4 L668.0 402.3 L668.9 401.3 L669.8 398.7 L670.7 397.6 L671.5 395.0 L672.4 397.6 L673.3 400.2 L674.2 400.9 L675.1 402.2 L676.0 400.0 L676.8 400.0 L677.7 400.0 L678.6 400.6 L679.5 399.0 L680.4 401.8 L681.2 396.5 L682.1 395.5 L683.0 391.0 L683.9 388.6 L684.8 386.0 L685.7 384.6 L686.5 388.3 L687.4 391.1 L688.3 395.6 L689.2 400.2 L690.1 398.4 L691.0 399.2 L691.8 400.7 L692.7 398.3 L693.6 399.7 L694.5 399.7 L695.4 400.3 L696.3 402.1 L697.1 400.9 L698.0 392.7 L698.9 393.2 L699.8 389.3 L700.7 387.9 L701.5 390.1 L702.4 389.7 L703.3 389.4 L704.2 388.6 L705.1 389.4 L706.0 390.6 L706.8 391.0 L707.7 390.5 L708.6 390.3 L709.5 391.0 L710.4 387.4 L711.3 389.3 L712.1 384.9 L713.0 389.1 L713.9 385.5 L714.8 384.7 L715.7 384.8 L716.6 383.8 L717.4 382.0 L718.3 380.1 L719.2 378.0 L720.1 380.3 L721.0 380.9 L721.8 381.2 L722.7 381.4 L723.6 376.4 L724.5 376.1 L725.4 379.9 L726.3 376.7 L727.1 387.6 L728.0 391.3 L728.9 392.3 L729.8 394.7 L730.7 391.2 L731.6 392.4 L732.4 393.2 L733.3 398.5 L734.2 398.3 L735.1 398.7 L736.0 403.4 L736.9 403.0 L737.7 404.2 L738.6 407.7 L739.5 400.0 L740.4 403.6 L741.3 400.0 L742.1 402.0 L743.0 399.6 L743.9 395.2 L744.8 398.8 L745.7 399.5 L746.6 406.4 L747.4 404.8 L748.3 402.2 L749.2 402.7 L750.1 400.2 L751.0 401.7 L751.9 395.8 L752.7 397.9 L753.6 395.4 L754.5 399.6 L755.4 396.7 L756.3 394.2 L757.2 394.8 L758.0 389.0 L758.9 391.3 L759.8 392.7 L760.7 390.0 L761.6 385.8 L762.4 389.1 L763.3 390.4 L764.2 393.6 L765.1 394.2 L766.0 394.4 L766.9 397.5 L767.7 396.3 L768.6 392.2 L769.5 389.3 L770.4 393.2 L771.3 387.4 L772.2 387.3 L773.0 383.9 L773.9 382.9 L774.8 381.8 L775.7 378.8 L776.6 380.7 L777.5 377.5 L778.3 377.6 L779.2 378.6 L780.1 375.7 L781.0 372.1 L781.9 374.3 L782.7 369.2 L783.6 370.2 L784.5 368.7 L785.4 371.0 L786.3 371.4 L787.2 369.9 L788.0 370.2 L788.9 370.3 L789.8 372.0 L790.7 368.7 L791.6 365.7 L792.5 363.7 L793.3 363.5 L794.2 363.8 L795.1 361.1 L796.0 365.7 L796.9 365.9 L797.8 368.8 L798.6 371.4 L799.5 362.3 L800.4 364.8 L801.3 361.7 L802.2 355.9 L803.0 356.9 L803.9 347.7 L804.8 352.2 L805.7 350.3 L806.6 349.5 L807.5 347.6 L808.3 350.2 L809.2 349.6 L810.1 349.2 L811.0 347.2 L811.9 341.5 L812.8 341.9 L813.6 340.9 L814.5 342.9 L815.4 339.0 L816.3 339.6 L817.2 344.0 L818.1 343.8 L818.9 344.1 L819.8 345.8 L820.7 339.5 L821.6 339.4 L822.5 338.7 L823.3 333.4 L824.2 332.3 L825.1 332.6 L826.0 332.1 L826.9 332.9 L827.8 336.9 L828.6 330.2 L829.5 330.3 L830.4 329.4 L831.3 326.8 L832.2 319.8 L833.1 317.6 L833.9 316.1 L834.8 319.0 L835.6 321.2 L836.4 319.7 L837.2 323.1 L838.0 324.6 L838.9 323.5 L839.8 318.6 L840.7 319.9 L841.5 316.4 L842.4 317.6 L843.3 315.0 L844.2 313.0 L845.1 309.9 L846.0 311.4 L846.8 308.5 L847.7 304.8 L848.6 307.4 L849.5 307.8 L850.4 308.8 L851.3 302.9 L852.1 304.3 L853.0 302.0 L853.9 301.7 L854.8 313.0 L855.7 320.3 L856.6 323.1 L857.4 325.2 L858.3 322.9 L859.2 324.1 L860.1 323.7 L861.0 326.8 L861.8 326.7 L862.7 322.9 L863.6 320.3 L864.5 316.4 L865.4 317.1 L866.3 316.6 L867.1 318.5 L868.0 318.4 L868.9 317.3 L869.8 317.2 L870.7 322.2 L871.6 325.8 L872.4 330.5 L873.3 333.6 L874.2 335.4 L875.1 329.4 L876.0 325.5 L876.9 322.7 L877.7 324.2 L878.6 318.0 L879.5 319.6 L880.4 316.7 L881.3 314.6 L882.1 314.5 L883.0 315.3 L883.9 316.2 L884.8 316.9 L885.7 319.6 L886.6 324.6 L887.4 327.2 L888.3 330.0 L889.2 336.2 L890.1 335.0 L891.0 331.0 L891.9 328.3 L892.7 327.9 L893.6 327.5 L894.5 323.9 L895.4 320.8 L896.3 321.2 L897.2 316.4 L898.0 320.5 L898.9 317.6 L899.8 325.6 L900.7 324.6 L901.6 330.1 L902.4 330.7 L903.3 331.3 L904.2 333.4 L905.1 333.6 L906.0 342.7 L906.9 346.0 L907.7 350.5 L908.6 356.8 L909.5 349.9 L910.4 346.3 L911.3 339.3 L912.2 340.9 L913.0 338.5 L913.9 341.2 L914.8 342.9 L915.7 345.1 L916.6 340.4 L917.5 336.0 L918.3 339.1 L919.2 339.8 L920.1 341.6" fill="none" stroke="#3a8ea8" stroke-width="3.2" stroke-linejoin="round" stroke-linecap="round"/><path d="M40.8 450.5 L41.8 448.0 L42.8 447.4 L43.8 449.8 L44.7 447.3 L45.6 448.4 L46.5 449.3 L47.4 448.2 L48.3 446.6 L49.2 452.1 L50.2 447.1 L51.1 449.4 L52.0 450.3 L53.0 447.9 L53.9 446.6 L54.9 444.6 L55.8 441.8 L56.7 445.0 L57.7 446.5 L58.6 441.1 L59.5 441.8 L60.5 441.9 L61.4 440.4 L62.3 440.9 L63.2 440.4 L64.1 440.0 L65.0 440.7 L65.9 440.5 L66.8 442.8 L67.7 440.0 L68.6 439.9 L69.5 439.5 L70.4 439.8 L71.3 439.0 L72.2 440.0 L73.1 441.0 L74.0 443.8 L74.9 442.3 L75.9 440.3 L76.8 443.7 L77.8 442.0 L78.8 443.3 L79.7 442.7 L80.7 444.9 L81.4 445.2 L82.2 446.0 L82.9 444.6 L83.7 444.1 L84.4 446.0 L85.2 445.2 L86.1 446.1 L87.0 443.4 L87.9 443.4 L88.8 446.8 L89.7 441.9 L90.6 441.2 L91.5 443.1 L92.4 441.5 L93.3 441.6 L94.2 441.2 L95.1 439.0 L96.1 440.9 L97.1 442.2 L98.0 434.9 L99.0 441.1 L100.0 440.2 L100.9 436.8 L101.8 439.7 L102.7 438.0 L103.6 438.7 L104.5 435.8 L105.4 437.8 L106.4 434.5 L107.3 433.1 L108.2 431.8 L109.2 430.6 L110.1 428.0 L111.0 428.9 L112.0 428.6 L112.9 427.3 L113.8 430.7 L114.8 423.7 L115.7 424.4 L116.7 425.0 L117.6 424.8 L118.6 424.6 L119.5 423.7 L120.5 424.2 L121.5 419.7 L122.4 421.9 L123.4 420.6 L124.3 421.9 L125.2 422.5 L126.1 423.9 L127.0 419.8 L127.9 419.8 L128.8 419.9 L129.7 421.5 L130.6 421.5 L131.5 422.1 L132.4 421.4 L133.3 419.6 L134.3 419.3 L135.2 419.3 L136.1 419.3 L137.1 424.0 L138.0 420.8 L138.6 418.2 L139.5 418.2 L140.4 421.2 L141.3 418.9 L142.1 421.7 L143.0 424.0 L143.9 426.0 L144.8 427.4 L145.7 425.8 L146.6 424.4 L147.4 426.5 L148.3 422.8 L149.2 422.4 L150.1 422.1 L151.0 417.6 L151.9 419.3 L152.7 415.1 L153.6 416.0 L154.5 414.3 L155.4 416.3 L156.3 413.2 L157.2 415.1 L158.0 413.0 L158.9 415.9 L159.8 412.7 L160.7 413.0 L161.6 413.9 L162.4 410.9 L163.3 406.5 L164.2 410.2 L165.1 409.9 L166.0 406.8 L166.9 408.8 L167.7 407.0 L168.6 407.1 L169.5 409.3 L170.4 405.2 L171.3 405.4 L172.2 403.3 L173.0 405.0 L173.9 402.2 L174.8 407.0 L175.7 406.1 L176.6 409.1 L177.5 410.6 L178.3 409.7 L179.2 408.5 L180.1 407.5 L181.0 409.5 L181.9 406.9 L182.7 408.1 L183.6 404.4 L184.5 409.1 L185.4 404.0 L186.3 405.8 L187.2 403.8 L188.0 399.1 L188.9 400.5 L189.8 401.1 L190.7 400.7 L191.6 398.2 L192.5 397.1 L193.3 398.3 L194.2 394.2 L195.0 388.0 L195.9 387.6 L196.8 390.3 L197.8 388.9 L198.7 385.7 L199.6 385.4 L200.5 387.6 L201.4 382.3 L202.3 385.7 L203.3 386.6 L204.2 385.0 L205.1 384.2 L206.0 385.9 L206.9 388.3 L207.8 389.4 L208.8 387.8 L209.7 386.8 L210.6 391.0 L211.5 388.8 L212.4 390.4 L213.3 388.9 L214.3 389.2 L215.1 393.8 L216.0 393.0 L216.8 398.8 L217.8 397.8 L218.7 403.3 L219.7 405.3 L220.7 408.7 L221.6 406.8 L222.5 408.9 L223.3 410.1 L224.2 411.9 L225.1 415.1 L226.0 417.1 L226.9 416.8 L227.8 423.1 L228.6 420.1 L229.5 417.4 L230.4 415.2 L231.3 413.2 L232.2 413.5 L233.1 411.3 L234.1 410.5 L235.1 410.9 L236.1 414.6 L237.0 415.0 L238.0 416.5 L238.9 415.8 L239.8 415.1 L240.6 413.4 L241.5 413.0 L242.4 409.5 L243.3 408.8 L244.2 409.3 L245.1 410.4 L245.9 408.2 L246.8 407.5 L247.7 409.5 L248.6 408.6 L249.5 407.0 L250.4 407.7 L251.2 404.4 L252.1 407.7 L253.0 404.5 L253.9 405.5 L254.8 402.3 L255.7 401.8 L256.5 402.3 L257.4 401.3 L258.3 400.4 L259.2 401.1 L260.1 398.6 L260.9 398.5 L261.8 399.4 L262.7 392.5 L263.6 392.9 L264.5 393.4 L265.4 389.2 L266.2 386.8 L267.1 386.9 L268.0 386.2 L268.9 387.5 L269.8 385.2 L270.7 384.9 L271.5 383.2 L272.4 381.6 L273.3 380.2 L274.2 382.6 L275.1 380.6 L276.0 383.9 L276.8 381.7 L277.7 379.7 L278.6 380.4 L279.5 379.6 L280.4 383.4 L281.2 381.8 L282.1 380.3 L283.0 376.9 L283.9 378.6 L284.8 382.1 L285.7 384.6 L286.5 386.1 L287.4 389.4 L288.3 382.8 L289.2 382.3 L290.1 380.9 L291.0 378.3 L291.8 374.2 L292.7 374.8 L293.6 374.8 L294.5 372.3 L295.4 370.7 L296.3 372.1 L297.1 370.0 L298.0 374.2 L298.9 369.6 L299.8 369.1 L300.7 367.9 L301.5 367.3 L302.4 365.8 L303.3 362.4 L304.2 365.2 L305.1 363.3 L306.0 363.8 L306.8 365.1 L307.7 362.5 L308.6 363.0 L309.5 364.6 L310.4 362.4 L311.3 360.0 L312.1 362.3 L313.0 357.6 L313.9 358.4 L314.8 359.3 L315.7 356.8 L316.6 355.4 L317.4 358.0 L318.3 361.2 L319.2 364.6 L320.1 369.7 L321.0 366.6 L321.8 366.5 L322.7 364.8 L323.6 363.8 L324.5 365.3 L325.4 364.8 L326.3 361.7 L327.1 358.0 L328.0 353.7 L328.9 357.1 L329.8 354.5 L330.7 349.6 L331.6 348.4 L332.4 349.4 L333.3 351.6 L334.2 346.7 L335.1 347.1 L336.0 349.1 L336.9 348.7 L337.7 349.3 L338.6 348.5 L339.5 349.7 L340.4 348.1 L341.3 349.4 L342.1 349.4 L343.0 348.0 L343.9 350.0 L344.8 346.5 L345.7 345.8 L346.6 347.1 L347.4 341.9 L348.3 344.8 L349.2 350.0 L350.1 344.7 L351.0 348.8 L351.9 346.3 L352.7 342.8 L353.6 346.3 L354.5 347.4 L355.4 346.1 L356.3 347.8 L357.2 346.4 L358.0 348.6 L358.9 350.0 L359.8 349.4 L360.7 347.2 L361.6 344.5 L362.4 348.0 L363.3 342.0 L364.2 343.7 L365.1 341.0 L366.0 338.3 L366.9 339.0 L367.7 340.5 L368.6 346.9 L369.5 348.8 L370.4 345.6 L371.3 349.7 L372.2 348.8 L373.0 357.9 L373.9 358.8 L374.8 364.6 L375.7 364.3 L376.6 365.5 L377.5 364.7 L378.3 365.2 L379.2 363.9 L380.1 360.9 L381.0 360.9 L381.9 359.7 L382.7 360.1 L383.6 360.1 L384.5 359.0 L385.4 360.6 L386.3 364.2 L387.2 365.3 L388.0 371.4 L388.9 362.0 L389.8 365.9 L390.7 358.5 L391.6 361.3 L392.5 359.3 L393.3 354.2 L394.2 349.7 L395.1 350.0 L396.0 351.6 L396.9 348.9 L397.8 350.6 L398.6 348.9 L399.5 355.0 L400.4 360.1 L401.3 364.1 L402.2 368.9 L403.0 370.2 L403.9 370.7 L404.8 374.1 L405.7 375.0 L406.6 374.2 L407.5 376.5 L408.3 375.2 L409.2 378.5 L410.1 375.1 L411.0 380.2 L411.9 379.9 L412.8 383.8 L413.6 379.1 L414.5 379.6 L415.4 379.9 L416.3 380.2 L417.2 379.6 L418.1 376.7 L418.9 381.4 L419.8 380.5 L420.7 382.3 L421.6 383.9 L422.5 383.4 L423.3 387.5 L424.2 387.8 L425.1 383.6 L426.0 386.1 L426.9 387.8 L427.8 387.8 L428.6 387.7 L429.6 393.9 L430.5 392.3 L431.5 396.0 L432.4 396.7 L433.3 400.3 L434.3 399.1 L435.2 401.5 L436.1 404.4 L437.1 408.6 L438.0 407.9 L438.9 409.6 L439.8 410.4 L440.6 410.9 L441.5 415.0 L442.4 412.7 L443.3 411.2 L444.2 413.2 L445.1 406.7 L445.9 406.6 L446.8 405.2 L447.7 405.2 L448.6 407.6 L449.5 405.6 L450.4 413.8 L451.2 414.7 L452.1 413.6 L453.0 414.7 L453.9 419.6 L454.8 413.7 L455.7 412.8 L456.5 409.8 L457.4 407.7 L458.3 404.8 L459.2 406.1 L460.1 403.4 L460.9 403.5 L461.8 402.2 L462.7 406.1 L463.6 407.7 L464.5 408.1 L465.4 406.7 L466.2 403.6 L467.1 400.5 L468.0 398.3 L468.9 403.1 L469.8 398.0 L470.7 396.6 L471.5 397.1 L472.4 397.8 L473.3 394.8 L474.2 396.4 L475.1 392.4 L476.0 395.8 L476.8 392.8 L477.7 398.1 L478.6 399.2 L479.5 401.2 L480.4 402.6 L481.2 404.9 L482.1 402.5 L483.0 408.0 L483.9 407.7 L484.8 411.0 L485.7 414.5 L486.5 416.3 L487.4 417.2 L488.3 418.6 L489.2 423.2 L490.1 428.0 L491.0 427.3 L491.8 426.5 L492.7 431.4 L493.6 430.1 L494.5 431.3 L495.4 428.1 L496.3 427.3 L497.1 423.2 L498.0 422.3 L498.9 421.9 L499.8 425.4 L500.7 425.7 L501.5 425.9 L502.4 425.1 L503.3 422.9 L504.2 423.2 L505.1 419.3 L506.0 417.8 L506.8 427.8 L507.7 428.8 L508.6 428.9 L509.5 431.0 L510.4 427.8 L511.3 424.9 L512.1 423.0 L513.0 423.5 L513.9 428.7 L514.8 428.6 L515.7 433.0 L516.5 434.3 L517.3 433.1 L518.0 436.9 L518.8 438.0 L519.7 439.6 L520.6 440.2 L521.5 441.2 L522.4 442.0 L523.2 446.3 L524.1 450.3 L525.0 454.4 L525.9 462.4 L526.8 469.6 L527.7 467.0 L528.5 463.6 L529.4 460.2 L530.3 468.3 L531.2 474.9 L532.1 480.7 L533.0 474.4 L533.8 467.1 L534.7 460.0 L535.6 462.5 L536.5 463.0 L537.4 467.2 L538.3 472.7 L539.1 469.8 L540.0 475.6 L540.9 474.8 L541.8 478.5 L542.7 478.7 L543.5 473.7 L544.4 470.4 L545.3 468.8 L546.2 464.1 L547.1 468.0 L548.0 466.1 L548.8 462.1 L549.7 465.4 L550.6 463.2 L551.5 461.7 L552.4 462.2 L553.3 461.5 L554.1 460.6 L555.0 457.5 L555.9 457.2 L556.8 460.0 L557.7 458.7 L558.6 465.6 L559.4 465.2 L560.3 470.4 L561.2 474.5 L562.1 471.7 L563.0 470.5 L563.8 468.8 L564.7 466.9 L565.6 463.5 L566.5 463.0 L567.4 460.3 L568.3 459.8 L569.1 460.2 L570.0 461.1 L570.9 465.9 L571.8 463.4 L572.7 466.6 L573.6 470.2 L574.4 470.0 L575.3 468.5 L576.2 469.5 L577.1 467.3 L578.0 464.4 L578.9 463.6 L579.7 462.4 L580.6 462.3 L581.5 463.6 L582.4 458.3 L583.3 461.7 L584.1 467.2 L585.0 465.5 L585.9 470.1 L586.8 463.4 L587.7 458.6 L588.6 456.1 L589.4 449.3 L590.3 451.0 L591.2 447.0 L592.1 450.9 L593.0 449.3 L593.9 448.6 L594.7 449.4 L595.6 450.9 L596.5 447.5 L597.4 443.3 L598.3 447.6 L599.2 444.3 L600.0 443.7 L600.9 441.4 L601.8 443.0 L602.7 437.4 L603.6 444.9 L604.4 442.6 L605.3 440.8 L606.2 440.5 L607.1 439.8 L608.0 441.8 L608.9 438.3 L609.7 437.6 L610.6 438.4 L611.5 439.1 L612.4 439.7 L613.3 441.7 L614.2 443.7 L615.0 442.5 L615.9 442.3 L616.8 442.5 L617.7 439.6 L618.6 437.8 L619.5 433.2 L620.3 437.9 L621.2 438.7 L622.1 439.3 L623.0 437.8 L623.9 439.7 L624.7 433.6 L625.6 432.5 L626.5 428.4 L627.4 430.4 L628.3 428.2 L629.2 426.1 L630.0 427.8 L630.9 425.2 L631.8 424.3 L632.7 421.5 L633.6 422.4 L634.5 421.8 L635.3 418.9 L636.2 420.5 L637.1 418.6 L638.0 415.4 L638.9 416.8 L639.8 419.7 L640.6 423.1 L641.5 425.7 L642.4 420.9 L643.3 420.3 L644.2 414.4 L645.1 415.6 L645.9 417.4 L646.8 416.5 L647.7 417.6 L648.6 418.6 L649.5 420.4 L650.4 423.4 L651.2 421.0 L652.1 422.6 L653.0 420.1 L653.9 419.7 L654.8 417.3 L655.7 414.6 L656.5 411.8 L657.4 417.3 L658.3 417.4 L659.2 411.9 L660.1 414.7 L660.9 413.3 L661.8 412.1 L662.7 409.3 L663.6 405.3 L664.5 408.2 L665.4 408.4 L666.2 404.9 L667.1 404.4 L668.0 408.7 L668.9 408.0 L669.8 410.5 L670.7 409.8 L671.5 407.7 L672.4 410.2 L673.3 409.5 L674.2 410.4 L675.1 411.6 L676.0 409.4 L676.8 408.2 L677.7 407.7 L678.6 405.1 L679.5 405.8 L680.4 404.5 L681.2 405.3 L682.1 407.2 L683.0 404.8 L683.9 404.7 L684.8 404.2 L685.7 404.7 L686.5 406.6 L687.4 402.9 L688.3 405.8 L689.2 404.9 L690.1 407.4 L691.0 404.0 L691.8 407.3 L692.7 410.0 L693.6 410.1 L694.5 411.0 L695.4 410.4 L696.3 412.0 L697.1 409.2 L698.0 410.7 L698.9 413.4 L699.8 415.8 L700.7 411.4 L701.5 407.1 L702.4 409.0 L703.3 405.8 L704.2 403.5 L705.1 402.2 L706.0 400.6 L706.8 398.4 L707.7 397.1 L708.6 393.9 L709.5 394.7 L710.4 393.8 L711.3 394.9 L712.1 394.3 L713.0 390.0 L713.9 391.1 L714.8 390.9 L715.7 390.5 L716.6 391.9 L717.4 391.8 L718.3 390.2 L719.2 392.8 L720.1 389.9 L721.0 390.2 L721.8 386.2 L722.7 387.3 L723.6 387.0 L724.5 387.2 L725.4 387.2 L726.3 391.1 L727.1 391.0 L728.0 400.1 L728.9 412.3 L729.8 407.8 L730.7 405.0 L731.6 399.8 L732.4 404.2 L733.3 404.9 L734.2 408.7 L735.1 412.2 L736.0 406.2 L736.9 405.2 L737.7 405.4 L738.6 400.1 L739.5 398.2 L740.4 395.8 L741.3 395.2 L742.1 394.5 L743.0 394.7 L743.9 388.5 L744.8 391.3 L745.7 393.3 L746.6 397.8 L747.4 401.4 L748.3 400.5 L749.2 401.3 L750.1 395.8 L751.0 392.3 L751.9 390.6 L752.7 388.2 L753.6 388.5 L754.5 387.7 L755.4 389.0 L756.3 389.7 L757.2 386.1 L758.0 383.8 L758.9 390.8 L759.8 387.2 L760.7 387.4 L761.6 389.4 L762.4 389.8 L763.3 391.0 L764.2 394.7 L765.1 397.7 L766.0 395.9 L766.9 396.9 L767.7 397.9 L768.6 392.4 L769.5 394.9 L770.4 389.9 L771.3 390.0 L772.2 390.0 L773.0 387.7 L773.9 386.6 L774.8 383.4 L775.7 382.1 L776.6 383.7 L777.5 386.4 L778.0 380.3 L778.9 383.6 L779.8 380.0 L780.6 381.0 L781.5 380.1 L782.4 381.4 L783.3 377.2 L784.2 380.6 L785.1 380.0 L785.9 378.4 L786.8 379.4 L787.7 383.2 L788.6 377.8 L789.5 382.6 L790.4 381.6 L791.2 382.4 L792.1 380.9 L793.0 379.8 L793.9 380.7 L794.8 379.8 L795.7 382.8 L796.5 379.6 L797.4 383.5 L798.3 378.1 L799.2 380.0 L800.1 373.8 L800.9 375.9 L801.8 376.5 L802.7 372.0 L803.6 372.4 L804.5 372.9 L805.4 369.9 L806.2 371.0 L807.1 372.9 L808.0 370.3 L808.9 371.1 L809.8 371.0 L810.7 371.7 L811.5 368.5 L812.4 370.6 L813.3 369.9 L814.2 371.2 L815.1 365.4 L816.0 368.4 L816.8 369.1 L817.7 365.9 L818.6 368.2 L819.5 369.5 L820.4 370.6 L821.2 368.1 L822.1 373.7 L823.0 373.9 L823.9 373.1 L824.8 377.6 L825.7 373.7 L826.5 375.0 L827.4 376.5 L828.3 373.9 L829.2 378.0 L830.1 379.3 L831.0 377.4 L831.8 379.1 L832.7 377.7 L833.6 375.9 L834.5 377.3 L835.4 378.8 L836.3 381.6 L837.1 383.6 L838.0 386.5 L838.9 380.8 L839.8 381.7 L840.7 377.5 L841.5 376.2 L842.4 377.6 L843.3 374.9 L844.2 368.7 L845.1 373.7 L846.0 370.7 L846.8 369.9 L847.7 373.8 L848.6 374.5 L849.5 369.9 L850.4 371.3 L851.3 372.3 L852.1 366.0 L853.0 368.4 L853.9 366.9 L854.8 367.0 L855.7 367.9 L856.6 366.4 L857.4 366.7 L858.3 366.6 L859.2 369.2 L860.1 369.0 L861.0 371.7 L861.8 370.7 L862.7 370.2 L863.6 372.6 L864.5 371.4 L865.4 372.3 L866.3 371.6 L867.1 373.8 L868.0 375.6 L868.9 381.0 L869.8 382.1 L870.7 384.6 L871.6 384.7 L872.4 383.6 L873.3 389.0 L873.4 389.8 L874.2 384.2 L875.1 382.0 L875.9 379.3 L876.7 375.6 L877.6 377.4 L878.4 380.1 L879.3 381.2 L880.1 385.2 L881.0 383.9 L881.8 382.0 L882.6 385.0 L883.5 385.8 L884.3 385.5 L885.2 387.3 L886.0 391.6 L886.9 392.0 L887.6 401.7 L888.4 408.0 L889.1 419.8 L889.9 416.1 L890.6 409.9 L891.3 410.0 L892.1 414.0 L892.8 419.1 L893.6 421.8 L894.4 416.6 L895.3 409.4 L896.1 410.4 L897.0 406.2 L897.7 409.3 L898.5 418.5 L899.2 424.4 L900.0 424.0 L900.7 416.2 L901.5 414.9 L902.2 414.6 L903.0 419.2 L903.7 424.2 L904.5 419.7 L905.2 418.0 L906.0 411.6 L906.7 416.9 L907.5 420.4 L908.2 422.9 L909.0 421.1 L909.7 415.0 L910.4 408.8 L911.2 410.1 L911.9 408.1 L912.7 408.5 L913.4 408.6 L914.2 408.7 L914.9 412.2 L915.7 406.9 L916.4 404.7 L917.2 400.3 L917.8 399.4 L918.3 403.6 L918.9 408.6 L919.4 410.7" fill="none" stroke="#ec8434" stroke-width="3.2" stroke-linejoin="round" stroke-linecap="round"/>
<line x1="1008.2" y1="146.3" x2="1033.6" y2="146.3" stroke="#46a8c6" stroke-width="2.8"/><text x="1034.6" y="150.7" class="lg" textLength="86.1" lengthAdjust="spacingAndGlyphs">Ädelmetaller</text><line x1="1008.2" y1="204.4" x2="1033.6" y2="204.4" stroke="#bb4442" stroke-width="2.8"/><text x="1034.6" y="208.8" class="lg" textLength="78.7" lengthAdjust="spacingAndGlyphs">Basmetaller</text><line x1="1008.2" y1="262.4" x2="1033.6" y2="262.4" stroke="#8aaa4c" stroke-width="2.8"/><text x="1034.6" y="266.8" class="lg" textLength="65.8" lengthAdjust="spacingAndGlyphs">Livsmedel</text><line x1="1008.2" y1="319.4" x2="1033.6" y2="319.4" stroke="#7a5c9e" stroke-width="2.8"/><text x="1034.6" y="323.8" class="lg" textLength="40.7" lengthAdjust="spacingAndGlyphs">Energi</text><line x1="1008.2" y1="377.2" x2="1033.6" y2="377.2" stroke="#3a8ea8" stroke-width="2.8"/><text x="1034.6" y="381.6" class="lg" textLength="25.6" lengthAdjust="spacingAndGlyphs">SHB</text><line x1="1008.2" y1="434.2" x2="1033.6" y2="434.2" stroke="#ec8434" stroke-width="2.8"/><text x="1034.6" y="438.6" class="lg" textLength="32.2" lengthAdjust="spacingAndGlyphs">OMX</text><text x="1034.6" y="401.7" class="lg" textLength="80.6" lengthAdjust="spacingAndGlyphs">Råvaruindex</text>
</svg>
</body></html>
